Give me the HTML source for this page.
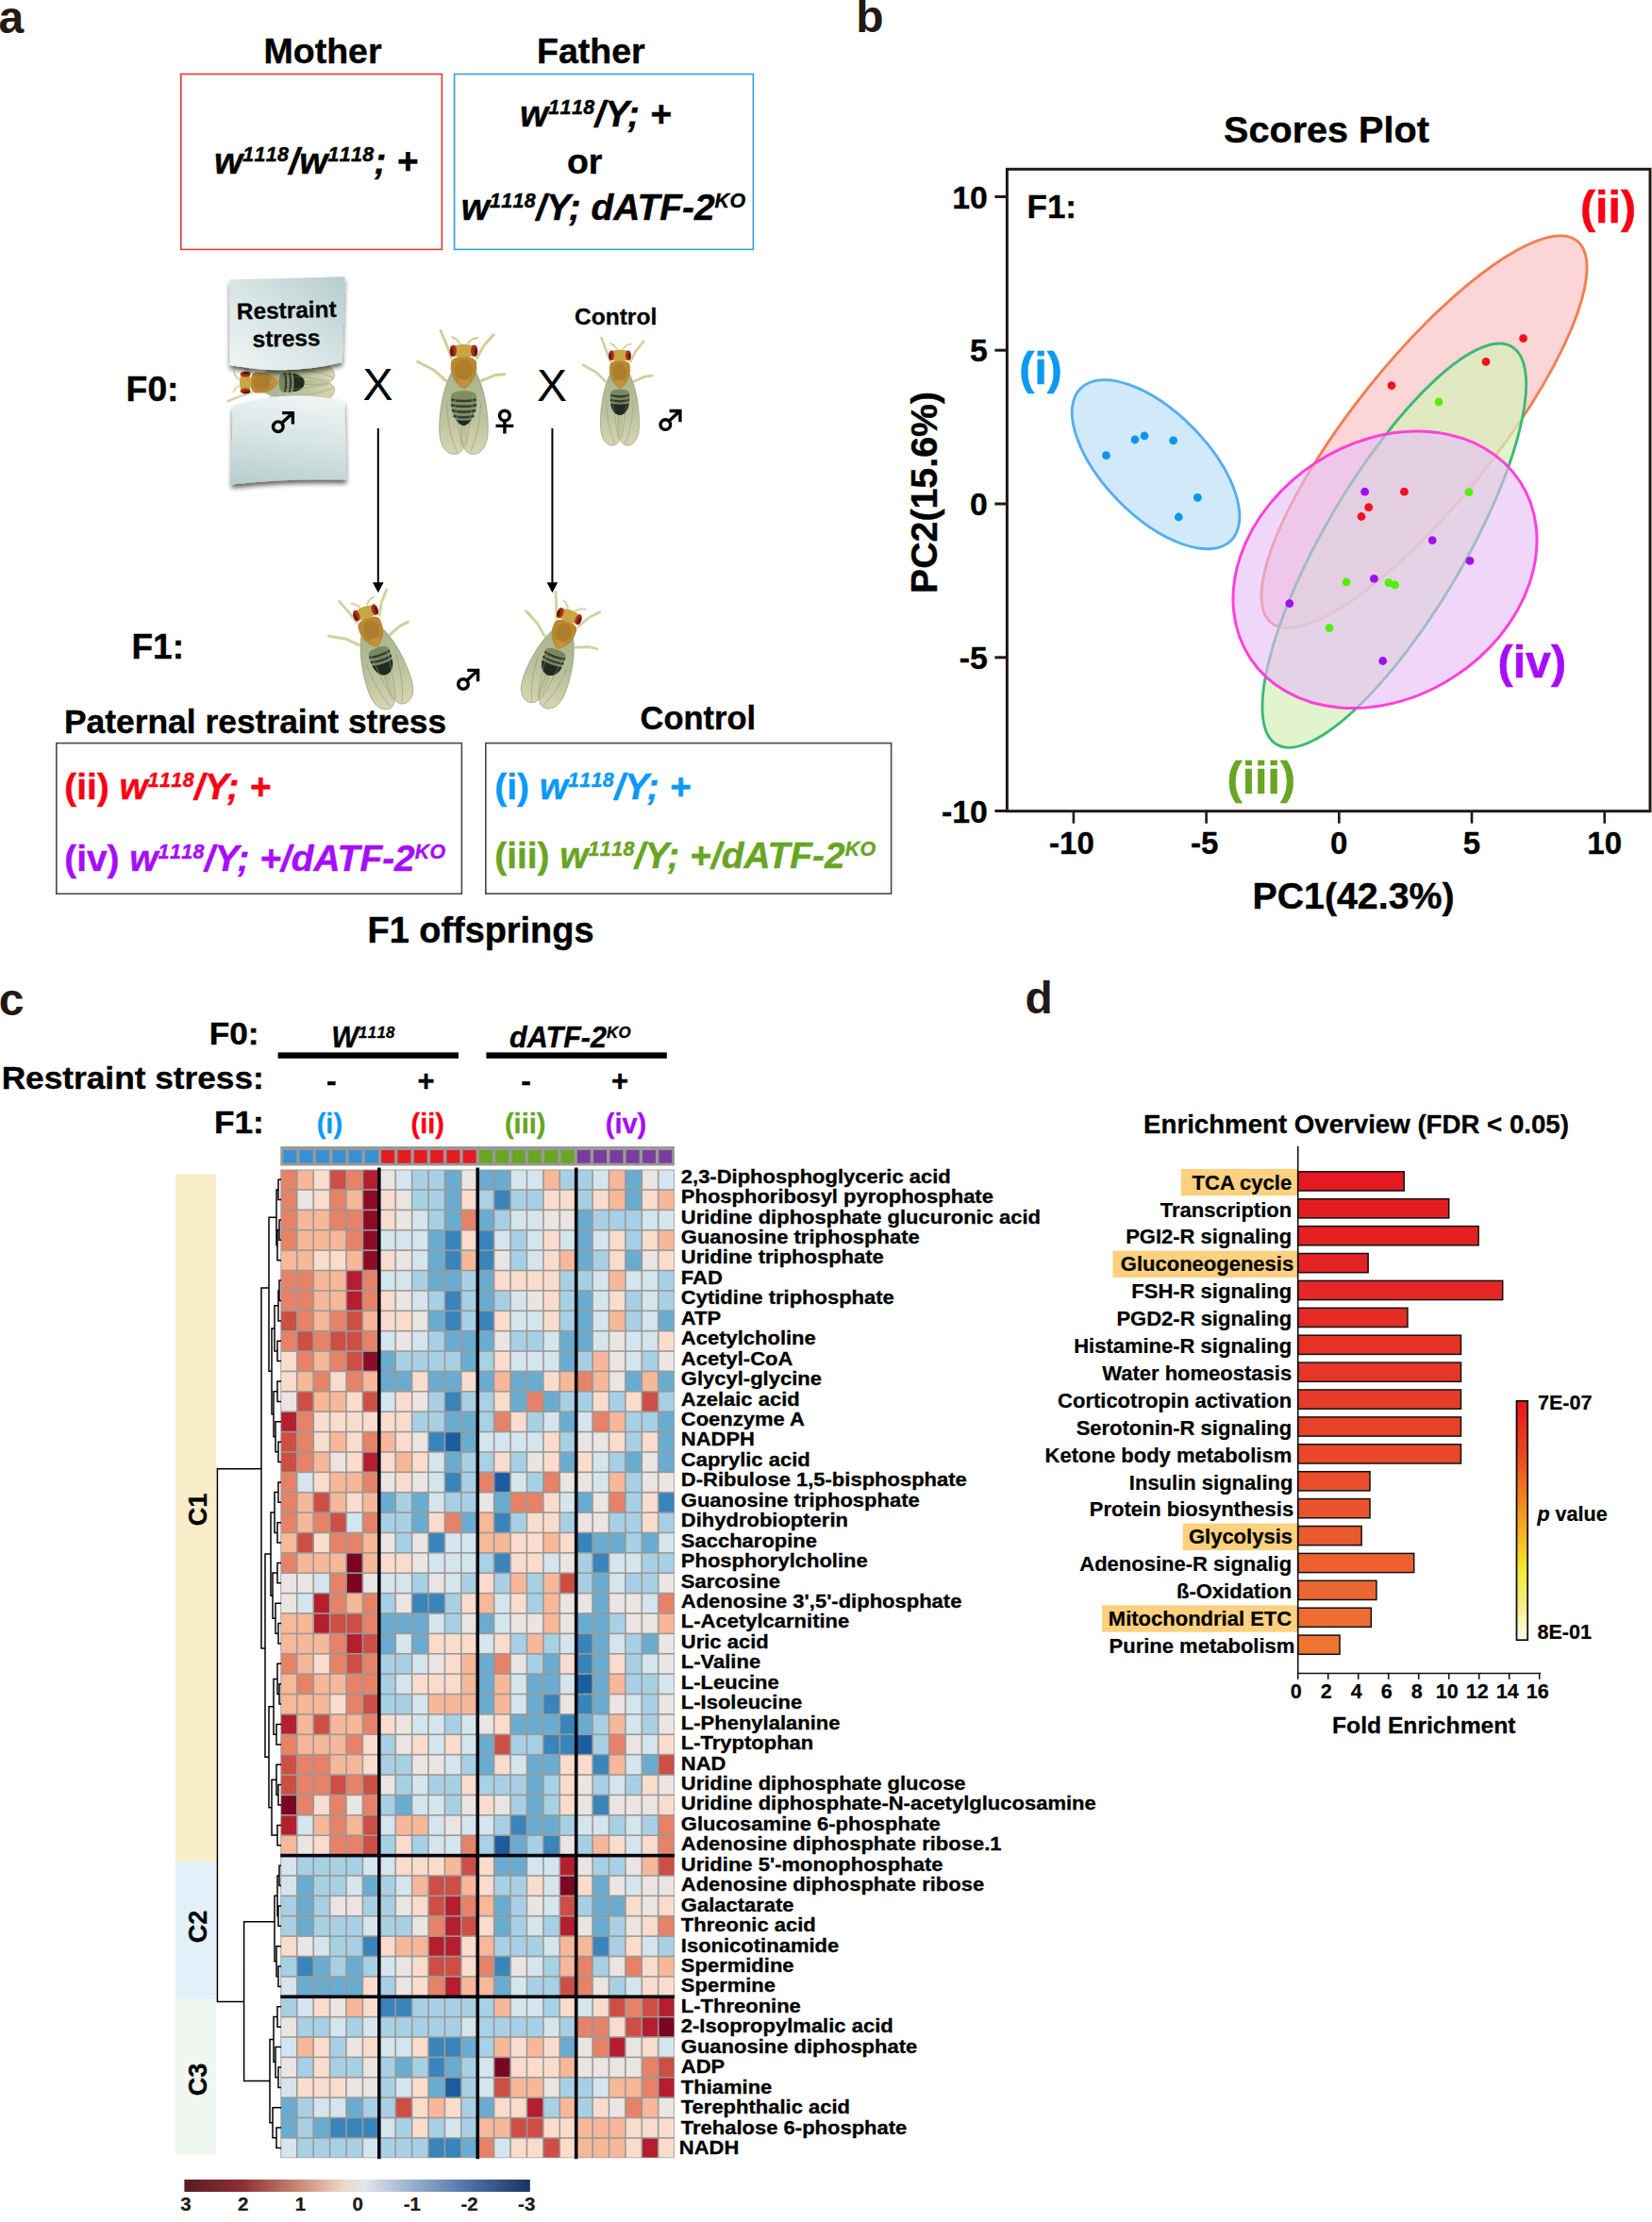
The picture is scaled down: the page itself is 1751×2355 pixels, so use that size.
<!DOCTYPE html>
<html><head><meta charset="utf-8"><title>Figure</title><style>html,body{margin:0;padding:0;background:#fff}svg{display:block}</style></head><body>
<svg width="1751" height="2355" viewBox="0 0 1751 2355" font-family="Liberation Sans, Arial, Helvetica, sans-serif">
<defs>
<linearGradient id="card" x1="0" y1="1" x2="1" y2="0"><stop offset="0" stop-color="#f0f5f5"/><stop offset="0.5" stop-color="#d6e4e3"/><stop offset="1" stop-color="#b5cdcc"/></linearGradient>
<linearGradient id="card2" x1="0.6" y1="0" x2="0.4" y2="1"><stop offset="0" stop-color="#eef4f4"/><stop offset="0.45" stop-color="#d9e6e5"/><stop offset="1" stop-color="#bad0cf"/></linearGradient>
<linearGradient id="hleg" x1="0" y1="0" x2="1" y2="0">
<stop offset="0" stop-color="#5a1a24"/><stop offset="0.17" stop-color="#8e3036"/><stop offset="0.33" stop-color="#c98872"/><stop offset="0.46" stop-color="#ecd7c8"/><stop offset="0.52" stop-color="#e4e6ea"/><stop offset="0.67" stop-color="#92abcb"/><stop offset="0.83" stop-color="#4b6fa6"/><stop offset="1" stop-color="#1c3360"/></linearGradient>
<linearGradient id="pleg" x1="0" y1="0" x2="0" y2="1">
<stop offset="0" stop-color="#e8151f"/><stop offset="0.23" stop-color="#ea4a20"/><stop offset="0.40" stop-color="#f08020"/><stop offset="0.535" stop-color="#f6ae1c"/><stop offset="0.645" stop-color="#f5d522"/><stop offset="0.725" stop-color="#f4ee38"/><stop offset="0.85" stop-color="#f3ee80"/><stop offset="1" stop-color="#fefef4"/></linearGradient>
<filter id="sh" x="-20%" y="-20%" width="140%" height="150%"><feGaussianBlur in="SourceAlpha" stdDeviation="2.5"/><feOffset dx="0" dy="4"/><feComponentTransfer><feFuncA type="linear" slope="0.6"/></feComponentTransfer><feMerge><feMergeNode/><feMergeNode in="SourceGraphic"/></feMerge></filter>
<linearGradient id="wing" x1="0" y1="0" x2="0" y2="1"><stop offset="0" stop-color="#98a57a"/><stop offset="0.55" stop-color="#afb78c"/><stop offset="1" stop-color="#d0cfa5"/></linearGradient>
<filter id="soft"><feGaussianBlur stdDeviation="0.6"/></filter>
</defs>
<rect width="1751" height="2355" fill="#fff"/>
<text x="-1.6" y="34.6" font-size="48" text-anchor="start" fill="#231815" font-weight="bold" font-style="normal" stroke="none">a</text>
<text x="907.2" y="34.4" font-size="48" text-anchor="start" fill="#231815" font-weight="bold" font-style="normal" stroke="none">b</text>
<text x="-1.3" y="1075.9" font-size="48" text-anchor="start" fill="#231815" font-weight="bold" font-style="normal" stroke="none">c</text>
<text x="1086.5" y="1074.2" font-size="48" text-anchor="start" fill="#231815" font-weight="bold" font-style="normal" stroke="none">d</text>
<text x="342.0" y="67.4" font-size="37.5" text-anchor="middle" fill="#000" font-weight="bold" font-style="normal"  stroke="#000" stroke-width="0.41">Mother</text>
<text x="626.3" y="67.4" font-size="37.5" text-anchor="middle" fill="#000" font-weight="bold" font-style="normal"  stroke="#000" stroke-width="0.41">Father</text>
<rect x="191.8" y="78.5" width="276.6" height="185.9" fill="none" stroke="#e8382f" stroke-width="1.6"/>
<rect x="481.6" y="78.5" width="316.8" height="185.9" fill="none" stroke="#2e9fe0" stroke-width="1.6"/>
<text x="335.0" y="183.6" font-size="38.9" text-anchor="middle" fill="#000" font-weight="bold" font-style="italic"  stroke="#000" stroke-width="0.43">w<tspan font-size="21.4" dy="-13.0" style="font-kerning:none" letter-spacing="0.4">1118</tspan><tspan font-size="38.9" dy="13.0">/w<tspan font-size="21.4" dy="-13.0" style="font-kerning:none" letter-spacing="0.4">1118</tspan><tspan font-size="38.9" dy="13.0">; +</tspan></tspan></text>
<text x="631.3" y="134.3" font-size="38.9" text-anchor="middle" fill="#000" font-weight="bold" font-style="italic"  stroke="#000" stroke-width="0.43">w<tspan font-size="21.4" dy="-13.0" style="font-kerning:none" letter-spacing="0.4">1118</tspan><tspan font-size="38.9" dy="13.0">/Y; +</tspan></text>
<text x="619.7" y="183.7" font-size="37.5" text-anchor="middle" fill="#000" font-weight="bold" font-style="normal"  stroke="#000" stroke-width="0.41">or</text>
<text x="639.6" y="232.6" font-size="38.9" text-anchor="middle" fill="#000" font-weight="bold" font-style="italic"  stroke="#000" stroke-width="0.43">w<tspan font-size="21.4" dy="-13.0" style="font-kerning:none" letter-spacing="0.4">1118</tspan><tspan font-size="38.9" dy="13.0">/Y; dATF-2<tspan font-size="21.4" dy="-13.0" style="font-kerning:none" letter-spacing="0.4">KO</tspan><tspan font-size="38.9" dy="13.0"></tspan></tspan></text>
<text x="133.6" y="425.0" font-size="37.3" text-anchor="start" fill="#000" font-weight="bold" font-style="normal"  stroke="#000" stroke-width="0.41">F0:</text>
<text x="139.5" y="698.4" font-size="37" text-anchor="start" fill="#000" font-weight="bold" font-style="normal"  stroke="#000" stroke-width="0.41">F1:</text>
<g transform="translate(253,405.5) rotate(-90) scale(0.8,0.905)"><g>
 <g stroke="#d3cd98" stroke-width="3" fill="none" stroke-linecap="round" stroke-linejoin="round" filter="url(#soft)">
  <path d="M-13,15 L-18,2 L-24.5,-12.5"/><path d="M14,15 L21,3 L31.5,-8.4"/>
  <path d="M-19,38 L-31,27.7 L-48.8,18.9"/><path d="M19,38 L32.9,32.4 L43,31.4"/>
  <path d="M-4.5,0 L-8,-4 L-12.3,-6" stroke-width="2"/><path d="M4.5,0 L9,-4 L14.7,-5.4" stroke-width="2"/>
 </g>
 <path d="M-12,28 C-21,42 -27,70 -25.5,92 C-24.5,108 -14,114.5 -6,111.5 C0,109 2.5,100 2.5,90 C2.5,70 3,52 -3,41 Z" fill="url(#wing)" fill-opacity="0.85" stroke="#9aa078" stroke-width="0.8"/>
 <path d="M12,28 C21,42 27,70 25.5,92 C24.5,108 14,114.5 6,111.5 C0,109 -2.5,100 -2.5,90 C-2.5,70 -3,52 3,41 Z" fill="url(#wing)" fill-opacity="0.85" stroke="#9aa078" stroke-width="0.8"/>
 <g opacity="0.9"><path d="M-12.5,53 Q-13,47 0,47 Q13,47 12.5,53 Q13.5,66 6,75 Q0,79 -6,75 Q-13.5,66 -12.5,53Z" fill="#74825a"/>
 <g stroke="#222e26" stroke-width="2.4" fill="none"><path d="M-12.5,54 Q0,57 12.5,54"/><path d="M-12.8,59.5 Q0,62.5 12.8,59.5"/></g>
 <path d="M-12.3,63.5 Q0,66 12.3,63.5 Q11,72 5.5,75.5 Q0,78.5 -5.5,75.5 Q-11,72 -12.3,63.5Z" fill="#121a17"/></g>
 <path d="M-18,60 C-17,85 -12,100 -7,110 M18,60 C17,85 12,100 7,110 M-10,50 C-8,75 -4,95 -2,104 M10,50 C8,75 4,95 2,104" stroke="#8f9670" stroke-width="0.7" fill="none" opacity="0.8"/>
 <path d="M-13.6,20 Q-13,14 0,13.5 Q13,14 13.6,20 Q15,32 8,40 Q3,46 0,46.5 Q-3,46 -8,40 Q-15,32 -13.6,20Z" fill="#b88932"/>
 <ellipse cx="0" cy="27" rx="9" ry="10" fill="#a67827" opacity="0.7"/>
 <path d="M-6.5,38 Q0,35 6.5,38 Q4,45 0,46.5 Q-4,45 -6.5,38Z" fill="#bf933c"/>
 <path d="M-10,2.5 Q0,-0.5 10,2.5 Q13,8 11,13 Q0,15.5 -11,13 Q-13,8 -10,2.5Z" fill="#c8a642"/>
 <ellipse cx="-11.2" cy="7.8" rx="3.7" ry="6" fill="#a92e1c"/><ellipse cx="11.2" cy="7.8" rx="3.7" ry="6" fill="#a92e1c"/>
 <ellipse cx="-12.7" cy="9" rx="1.7" ry="4.2" fill="#4e120e" opacity="0.75"/><ellipse cx="12.7" cy="9" rx="1.7" ry="4.2" fill="#4e120e" opacity="0.75"/>
</g>
</g>
<g filter="url(#sh)"><path d="M243.6,296.3 Q300,295.5 365.6,293.3 L362.8,384.1 Q304,399 243.6,386.9 Z" fill="url(#card)"/></g>
<g filter="url(#sh)"><path d="M246.5,430.5 Q302,411 365.3,425 L367.3,508.4 Q300,507 245.3,513.5 Z" fill="url(#card2)"/></g>
<g transform="rotate(-1.5 304 338)">
<text x="304.0" y="337.2" font-size="24.4" text-anchor="middle" fill="#000" font-weight="bold" font-style="normal"  stroke="#000" stroke-width="0.27">Restraint</text>
<text x="303.0" y="367.0" font-size="24.4" text-anchor="middle" fill="#000" font-weight="bold" font-style="normal"  stroke="#000" stroke-width="0.27">stress</text>
</g>
<g transform="translate(294.8,452.2) scale(1)" fill="none" stroke="#000" stroke-width="3.4"><circle cx="0" cy="0" r="5.3"/><path d="M3.8,-3.8 L14.6,-13.8 M4.3,-14.6 L15.6,-14.6 L15.6,-2.8"/></g>
<text x="400.5" y="424.2" font-size="48" text-anchor="middle" fill="#000" font-weight="normal" font-style="normal" >X</text>
<text x="585.0" y="424.6" font-size="48" text-anchor="middle" fill="#000" font-weight="normal" font-style="normal" >X</text>
<g transform="translate(491.5,363.6) scale(1,1.05)"><g>
 <g stroke="#d3cd98" stroke-width="3" fill="none" stroke-linecap="round" stroke-linejoin="round" filter="url(#soft)">
  <path d="M-13,15 L-18,2 L-24.5,-12.5"/><path d="M14,15 L21,3 L31.5,-8.4"/>
  <path d="M-19,38 L-31,27.7 L-48.8,18.9"/><path d="M19,38 L32.9,32.4 L43,31.4"/>
  <path d="M-4.5,0 L-8,-4 L-12.3,-6" stroke-width="2"/><path d="M4.5,0 L9,-4 L14.7,-5.4" stroke-width="2"/>
 </g>
 <path d="M-12,28 C-21,42 -27,70 -25.5,92 C-24.5,108 -14,114.5 -6,111.5 C0,109 2.5,100 2.5,90 C2.5,70 3,52 -3,41 Z" fill="url(#wing)" fill-opacity="0.85" stroke="#9aa078" stroke-width="0.8"/>
 <path d="M12,28 C21,42 27,70 25.5,92 C24.5,108 14,114.5 6,111.5 C0,109 -2.5,100 -2.5,90 C-2.5,70 -3,52 3,41 Z" fill="url(#wing)" fill-opacity="0.85" stroke="#9aa078" stroke-width="0.8"/>
 <g opacity="0.9"><path d="M-13.5,55 Q-14,48 0,48 Q14,48 13.5,55 Q14.5,70 6.5,80 Q0,84.5 -6.5,80 Q-14.5,70 -13.5,55Z" fill="#7c8a5c"/>
 <g stroke="#26322a" stroke-width="2.5" fill="none"><path d="M-13.3,57 Q0,60 13.3,57"/><path d="M-13.6,62.5 Q0,65.5 13.6,62.5"/><path d="M-12.8,68 Q0,71 12.8,68"/><path d="M-11,73.5 Q0,76.5 11,73.5"/></g>
 <path d="M-8.5,77 Q0,79.5 8.5,77 Q5,82.5 0,83.5 Q-5,82.5 -8.5,77Z" fill="#10181a"/></g>
 <path d="M-18,60 C-17,85 -12,100 -7,110 M18,60 C17,85 12,100 7,110 M-10,50 C-8,75 -4,95 -2,104 M10,50 C8,75 4,95 2,104" stroke="#8f9670" stroke-width="0.7" fill="none" opacity="0.8"/>
 <path d="M-13.6,20 Q-13,14 0,13.5 Q13,14 13.6,20 Q15,32 8,40 Q3,46 0,46.5 Q-3,46 -8,40 Q-15,32 -13.6,20Z" fill="#b88932"/>
 <ellipse cx="0" cy="27" rx="9" ry="10" fill="#a67827" opacity="0.7"/>
 <path d="M-6.5,38 Q0,35 6.5,38 Q4,45 0,46.5 Q-4,45 -6.5,38Z" fill="#bf933c"/>
 <path d="M-10,2.5 Q0,-0.5 10,2.5 Q13,8 11,13 Q0,15.5 -11,13 Q-13,8 -10,2.5Z" fill="#c8a642"/>
 <ellipse cx="-11.2" cy="7.8" rx="3.7" ry="6" fill="#a92e1c"/><ellipse cx="11.2" cy="7.8" rx="3.7" ry="6" fill="#a92e1c"/>
 <ellipse cx="-12.7" cy="9" rx="1.7" ry="4.2" fill="#4e120e" opacity="0.75"/><ellipse cx="12.7" cy="9" rx="1.7" ry="4.2" fill="#4e120e" opacity="0.75"/>
</g>
</g>
<g transform="translate(534.9,440.6) scale(1)" fill="none" stroke="#000" stroke-width="3.4"><circle cx="0" cy="0" r="5.4"/><path d="M0,5.4 L0,19 M-9.4,10.8 L9.4,10.8"/></g>
<g transform="translate(657,369.5) scale(0.8,0.915)"><g>
 <g stroke="#d3cd98" stroke-width="3" fill="none" stroke-linecap="round" stroke-linejoin="round" filter="url(#soft)">
  <path d="M-13,15 L-18,2 L-24.5,-12.5"/><path d="M14,15 L21,3 L31.5,-8.4"/>
  <path d="M-19,38 L-31,27.7 L-48.8,18.9"/><path d="M19,38 L32.9,32.4 L43,31.4"/>
  <path d="M-4.5,0 L-8,-4 L-12.3,-6" stroke-width="2"/><path d="M4.5,0 L9,-4 L14.7,-5.4" stroke-width="2"/>
 </g>
 <path d="M-12,28 C-21,42 -27,70 -25.5,92 C-24.5,108 -14,114.5 -6,111.5 C0,109 2.5,100 2.5,90 C2.5,70 3,52 -3,41 Z" fill="url(#wing)" fill-opacity="0.85" stroke="#9aa078" stroke-width="0.8"/>
 <path d="M12,28 C21,42 27,70 25.5,92 C24.5,108 14,114.5 6,111.5 C0,109 -2.5,100 -2.5,90 C-2.5,70 -3,52 3,41 Z" fill="url(#wing)" fill-opacity="0.85" stroke="#9aa078" stroke-width="0.8"/>
 <g opacity="0.9"><path d="M-12.5,53 Q-13,47 0,47 Q13,47 12.5,53 Q13.5,66 6,75 Q0,79 -6,75 Q-13.5,66 -12.5,53Z" fill="#74825a"/>
 <g stroke="#222e26" stroke-width="2.4" fill="none"><path d="M-12.5,54 Q0,57 12.5,54"/><path d="M-12.8,59.5 Q0,62.5 12.8,59.5"/></g>
 <path d="M-12.3,63.5 Q0,66 12.3,63.5 Q11,72 5.5,75.5 Q0,78.5 -5.5,75.5 Q-11,72 -12.3,63.5Z" fill="#121a17"/></g>
 <path d="M-18,60 C-17,85 -12,100 -7,110 M18,60 C17,85 12,100 7,110 M-10,50 C-8,75 -4,95 -2,104 M10,50 C8,75 4,95 2,104" stroke="#8f9670" stroke-width="0.7" fill="none" opacity="0.8"/>
 <path d="M-13.6,20 Q-13,14 0,13.5 Q13,14 13.6,20 Q15,32 8,40 Q3,46 0,46.5 Q-3,46 -8,40 Q-15,32 -13.6,20Z" fill="#b88932"/>
 <ellipse cx="0" cy="27" rx="9" ry="10" fill="#a67827" opacity="0.7"/>
 <path d="M-6.5,38 Q0,35 6.5,38 Q4,45 0,46.5 Q-4,45 -6.5,38Z" fill="#bf933c"/>
 <path d="M-10,2.5 Q0,-0.5 10,2.5 Q13,8 11,13 Q0,15.5 -11,13 Q-13,8 -10,2.5Z" fill="#c8a642"/>
 <ellipse cx="-11.2" cy="7.8" rx="3.7" ry="6" fill="#a92e1c"/><ellipse cx="11.2" cy="7.8" rx="3.7" ry="6" fill="#a92e1c"/>
 <ellipse cx="-12.7" cy="9" rx="1.7" ry="4.2" fill="#4e120e" opacity="0.75"/><ellipse cx="12.7" cy="9" rx="1.7" ry="4.2" fill="#4e120e" opacity="0.75"/>
</g>
</g>
<g transform="translate(705.3,450.1) scale(1)" fill="none" stroke="#000" stroke-width="3.4"><circle cx="0" cy="0" r="5.3"/><path d="M3.8,-3.8 L14.6,-13.8 M4.3,-14.6 L15.6,-14.6 L15.6,-2.8"/></g>
<text x="652.6" y="343.9" font-size="24.6" text-anchor="middle" fill="#000" font-weight="bold" font-style="normal"  stroke="#000" stroke-width="0.27">Control</text>
<path d="M400.8,454 L400.8,620" stroke="#000" stroke-width="2"/><path d="M395.0,617.3 L406.6,617.3 L400.8,628.2 Z" fill="#000"/>
<path d="M585.4,454 L585.4,620" stroke="#000" stroke-width="2"/><path d="M579.6,617.3 L591.1999999999999,617.3 L585.4,628.2 Z" fill="#000"/>
<g transform="translate(385,642) rotate(-18.5) scale(0.92,1.0)"><g>
 <g stroke="#d3cd98" stroke-width="3" fill="none" stroke-linecap="round" stroke-linejoin="round" filter="url(#soft)">
  <path d="M-13,15 L-18,2 L-24.5,-12.5"/><path d="M14,15 L21,3 L31.5,-8.4"/>
  <path d="M-19,38 L-31,27.7 L-48.8,18.9"/><path d="M19,38 L32.9,32.4 L43,31.4"/>
  <path d="M-4.5,0 L-8,-4 L-12.3,-6" stroke-width="2"/><path d="M4.5,0 L9,-4 L14.7,-5.4" stroke-width="2"/>
 </g>
 <path d="M-12,28 C-21,42 -27,70 -25.5,92 C-24.5,108 -14,114.5 -6,111.5 C0,109 2.5,100 2.5,90 C2.5,70 3,52 -3,41 Z" fill="url(#wing)" fill-opacity="0.85" stroke="#9aa078" stroke-width="0.8"/>
 <path d="M12,28 C21,42 27,70 25.5,92 C24.5,108 14,114.5 6,111.5 C0,109 -2.5,100 -2.5,90 C-2.5,70 -3,52 3,41 Z" fill="url(#wing)" fill-opacity="0.85" stroke="#9aa078" stroke-width="0.8"/>
 <g opacity="0.9"><path d="M-12.5,53 Q-13,47 0,47 Q13,47 12.5,53 Q13.5,66 6,75 Q0,79 -6,75 Q-13.5,66 -12.5,53Z" fill="#74825a"/>
 <g stroke="#222e26" stroke-width="2.4" fill="none"><path d="M-12.5,54 Q0,57 12.5,54"/><path d="M-12.8,59.5 Q0,62.5 12.8,59.5"/></g>
 <path d="M-12.3,63.5 Q0,66 12.3,63.5 Q11,72 5.5,75.5 Q0,78.5 -5.5,75.5 Q-11,72 -12.3,63.5Z" fill="#121a17"/></g>
 <path d="M-18,60 C-17,85 -12,100 -7,110 M18,60 C17,85 12,100 7,110 M-10,50 C-8,75 -4,95 -2,104 M10,50 C8,75 4,95 2,104" stroke="#8f9670" stroke-width="0.7" fill="none" opacity="0.8"/>
 <path d="M-13.6,20 Q-13,14 0,13.5 Q13,14 13.6,20 Q15,32 8,40 Q3,46 0,46.5 Q-3,46 -8,40 Q-15,32 -13.6,20Z" fill="#b88932"/>
 <ellipse cx="0" cy="27" rx="9" ry="10" fill="#a67827" opacity="0.7"/>
 <path d="M-6.5,38 Q0,35 6.5,38 Q4,45 0,46.5 Q-4,45 -6.5,38Z" fill="#bf933c"/>
 <path d="M-10,2.5 Q0,-0.5 10,2.5 Q13,8 11,13 Q0,15.5 -11,13 Q-13,8 -10,2.5Z" fill="#c8a642"/>
 <ellipse cx="-11.2" cy="7.8" rx="3.7" ry="6" fill="#a92e1c"/><ellipse cx="11.2" cy="7.8" rx="3.7" ry="6" fill="#a92e1c"/>
 <ellipse cx="-12.7" cy="9" rx="1.7" ry="4.2" fill="#4e120e" opacity="0.75"/><ellipse cx="12.7" cy="9" rx="1.7" ry="4.2" fill="#4e120e" opacity="0.75"/>
</g>
</g>
<g transform="translate(606,646) rotate(20) scale(0.92,0.96)"><g>
 <g stroke="#d3cd98" stroke-width="3" fill="none" stroke-linecap="round" stroke-linejoin="round" filter="url(#soft)">
  <path d="M-13,15 L-18,2 L-24.5,-12.5"/><path d="M14,15 L21,3 L31.5,-8.4"/>
  <path d="M-19,38 L-31,27.7 L-48.8,18.9"/><path d="M19,38 L32.9,32.4 L43,31.4"/>
  <path d="M-4.5,0 L-8,-4 L-12.3,-6" stroke-width="2"/><path d="M4.5,0 L9,-4 L14.7,-5.4" stroke-width="2"/>
 </g>
 <path d="M-12,28 C-21,42 -27,70 -25.5,92 C-24.5,108 -14,114.5 -6,111.5 C0,109 2.5,100 2.5,90 C2.5,70 3,52 -3,41 Z" fill="url(#wing)" fill-opacity="0.85" stroke="#9aa078" stroke-width="0.8"/>
 <path d="M12,28 C21,42 27,70 25.5,92 C24.5,108 14,114.5 6,111.5 C0,109 -2.5,100 -2.5,90 C-2.5,70 -3,52 3,41 Z" fill="url(#wing)" fill-opacity="0.85" stroke="#9aa078" stroke-width="0.8"/>
 <g opacity="0.9"><path d="M-12.5,53 Q-13,47 0,47 Q13,47 12.5,53 Q13.5,66 6,75 Q0,79 -6,75 Q-13.5,66 -12.5,53Z" fill="#74825a"/>
 <g stroke="#222e26" stroke-width="2.4" fill="none"><path d="M-12.5,54 Q0,57 12.5,54"/><path d="M-12.8,59.5 Q0,62.5 12.8,59.5"/></g>
 <path d="M-12.3,63.5 Q0,66 12.3,63.5 Q11,72 5.5,75.5 Q0,78.5 -5.5,75.5 Q-11,72 -12.3,63.5Z" fill="#121a17"/></g>
 <path d="M-18,60 C-17,85 -12,100 -7,110 M18,60 C17,85 12,100 7,110 M-10,50 C-8,75 -4,95 -2,104 M10,50 C8,75 4,95 2,104" stroke="#8f9670" stroke-width="0.7" fill="none" opacity="0.8"/>
 <path d="M-13.6,20 Q-13,14 0,13.5 Q13,14 13.6,20 Q15,32 8,40 Q3,46 0,46.5 Q-3,46 -8,40 Q-15,32 -13.6,20Z" fill="#b88932"/>
 <ellipse cx="0" cy="27" rx="9" ry="10" fill="#a67827" opacity="0.7"/>
 <path d="M-6.5,38 Q0,35 6.5,38 Q4,45 0,46.5 Q-4,45 -6.5,38Z" fill="#bf933c"/>
 <path d="M-10,2.5 Q0,-0.5 10,2.5 Q13,8 11,13 Q0,15.5 -11,13 Q-13,8 -10,2.5Z" fill="#c8a642"/>
 <ellipse cx="-11.2" cy="7.8" rx="3.7" ry="6" fill="#a92e1c"/><ellipse cx="11.2" cy="7.8" rx="3.7" ry="6" fill="#a92e1c"/>
 <ellipse cx="-12.7" cy="9" rx="1.7" ry="4.2" fill="#4e120e" opacity="0.75"/><ellipse cx="12.7" cy="9" rx="1.7" ry="4.2" fill="#4e120e" opacity="0.75"/>
</g>
</g>
<g transform="translate(491,725) scale(1)" fill="none" stroke="#000" stroke-width="3.4"><circle cx="0" cy="0" r="5.3"/><path d="M3.8,-3.8 L14.6,-13.8 M4.3,-14.6 L15.6,-14.6 L15.6,-2.8"/></g>
<text x="270.6" y="777.0" font-size="35.4" text-anchor="middle" fill="#000" font-weight="bold" font-style="normal"  stroke="#000" stroke-width="0.39">Paternal restraint stress</text>
<text x="739.8" y="773.1" font-size="34.5" text-anchor="middle" fill="#000" font-weight="bold" font-style="normal"  stroke="#000" stroke-width="0.38">Control</text>
<rect x="59.8" y="787.6" width="429.6" height="159.7" fill="none" stroke="#4d4544" stroke-width="1.6"/>
<rect x="514.8" y="787.6" width="429.8" height="159.6" fill="none" stroke="#4d4544" stroke-width="1.6"/>
<text x="68.2" y="846.8" font-size="38.9" text-anchor="start" fill="#fa0014" font-weight="bold" font-style="italic"  stroke="#fa0014" stroke-width="0.43"><tspan font-style="normal">(ii) </tspan>w<tspan font-size="21.4" dy="-13.0" style="font-kerning:none" letter-spacing="0.4">1118</tspan><tspan font-size="38.9" dy="13.0">/Y; +</tspan></text>
<text x="68.2" y="923.0" font-size="38.9" text-anchor="start" fill="#a70dfc" font-weight="bold" font-style="italic"  stroke="#a70dfc" stroke-width="0.43"><tspan font-style="normal">(iv) </tspan>w<tspan font-size="21.4" dy="-13.0" style="font-kerning:none" letter-spacing="0.4">1118</tspan><tspan font-size="38.9" dy="13.0">/Y; +/dATF-2<tspan font-size="21.4" dy="-13.0" style="font-kerning:none" letter-spacing="0.4">KO</tspan><tspan font-size="38.9" dy="13.0"></tspan></tspan></text>
<text x="524.2" y="846.5" font-size="38.9" text-anchor="start" fill="#0b99f9" font-weight="bold" font-style="italic"  stroke="#0b99f9" stroke-width="0.43"><tspan font-style="normal">(i) </tspan>w<tspan font-size="21.4" dy="-13.0" style="font-kerning:none" letter-spacing="0.4">1118</tspan><tspan font-size="38.9" dy="13.0">/Y; +</tspan></text>
<text x="524.2" y="920.3" font-size="38.9" text-anchor="start" fill="#68a523" font-weight="bold" font-style="italic"  stroke="#68a523" stroke-width="0.43"><tspan font-style="normal">(iii) </tspan>w<tspan font-size="21.4" dy="-13.0" style="font-kerning:none" letter-spacing="0.4">1118</tspan><tspan font-size="38.9" dy="13.0">/Y; +/dATF-2<tspan font-size="21.4" dy="-13.0" style="font-kerning:none" letter-spacing="0.4">KO</tspan><tspan font-size="38.9" dy="13.0"></tspan></tspan></text>
<text x="509.5" y="999.1" font-size="37.9" text-anchor="middle" fill="#000" font-weight="bold" font-style="normal"  stroke="#000" stroke-width="0.42">F1 offsprings</text>
<clipPath id="bclip"><rect x="1067.4" y="179.3" width="681.5999999999999" height="680.4000000000001"/></clipPath><g clip-path="url(#bclip)">
<ellipse cx="1225.1" cy="492.2" rx="113.4" ry="55.3" transform="rotate(45.4 1225.1 492.2)" fill="#bfe0f8" fill-opacity="0.7" stroke="#55aef0" stroke-width="2.9"/>
<ellipse cx="1509.5" cy="457.7" rx="259.3" ry="75.5" transform="rotate(-51.3 1509.5 457.7)" fill="#fbc4c4" fill-opacity="0.7" stroke="#f08050" stroke-width="2.9"/>
<ellipse cx="1477.8" cy="578.2" rx="244.9" ry="73.6" transform="rotate(-59.4 1477.8 578.2)" fill="#d4f0b8" fill-opacity="0.7" stroke="#3cb878" stroke-width="2.9"/>
<ellipse cx="1468.0" cy="603.8" rx="170.9" ry="135.1" transform="rotate(-33.2 1468.0 603.8)" fill="#e6bdf7" fill-opacity="0.6" stroke="#ff40dc" stroke-width="3"/>
</g>
<circle cx="1172.5" cy="482.7" r="4.4" fill="#0a96f0"/>
<circle cx="1203" cy="466" r="4.4" fill="#0a96f0"/>
<circle cx="1213" cy="462" r="4.4" fill="#0a96f0"/>
<circle cx="1243.6" cy="466.8" r="4.4" fill="#0a96f0"/>
<circle cx="1269.4" cy="527.4" r="4.4" fill="#0a96f0"/>
<circle cx="1249.3" cy="548" r="4.4" fill="#0a96f0"/>
<circle cx="1614.6" cy="358.6" r="4.4" fill="#f0141e"/>
<circle cx="1575" cy="383.3" r="4.4" fill="#f0141e"/>
<circle cx="1475" cy="408.6" r="4.4" fill="#f0141e"/>
<circle cx="1488.4" cy="521.2" r="4.4" fill="#f0141e"/>
<circle cx="1450.7" cy="537.7" r="4.4" fill="#f0141e"/>
<circle cx="1443" cy="547.5" r="4.4" fill="#f0141e"/>
<circle cx="1525" cy="426" r="4.4" fill="#50f000"/>
<circle cx="1556.9" cy="521.7" r="4.4" fill="#50f000"/>
<circle cx="1427" cy="617" r="4.4" fill="#50f000"/>
<circle cx="1471.9" cy="617.6" r="4.4" fill="#50f000"/>
<circle cx="1478.6" cy="620" r="4.4" fill="#50f000"/>
<circle cx="1409" cy="665.5" r="4.4" fill="#50f000"/>
<circle cx="1446.6" cy="521.2" r="4.4" fill="#a010f0"/>
<circle cx="1518.2" cy="572.7" r="4.4" fill="#a010f0"/>
<circle cx="1557.9" cy="594.4" r="4.4" fill="#a010f0"/>
<circle cx="1456.4" cy="613.4" r="4.4" fill="#a010f0"/>
<circle cx="1366.8" cy="639.7" r="4.4" fill="#a010f0"/>
<circle cx="1465.7" cy="700.5" r="4.4" fill="#a010f0"/>
<rect x="1067.4" y="179.3" width="681.5999999999999" height="680.4000000000001" fill="none" stroke="#231815" stroke-width="3"/>
<path d="M1054.4,208.5 L1067.4,208.5" stroke="#231815" stroke-width="3"/>
<text x="1046.9" y="220.5" font-size="33.8" text-anchor="end" fill="#000" font-weight="bold" font-style="normal"  stroke="#000" stroke-width="0.37">10</text>
<path d="M1054.4,371.2 L1067.4,371.2" stroke="#231815" stroke-width="3"/>
<text x="1046.9" y="383.2" font-size="33.8" text-anchor="end" fill="#000" font-weight="bold" font-style="normal"  stroke="#000" stroke-width="0.37">5</text>
<path d="M1054.4,534.0 L1067.4,534.0" stroke="#231815" stroke-width="3"/>
<text x="1046.9" y="546.0" font-size="33.8" text-anchor="end" fill="#000" font-weight="bold" font-style="normal"  stroke="#000" stroke-width="0.37">0</text>
<path d="M1054.4,696.8 L1067.4,696.8" stroke="#231815" stroke-width="3"/>
<text x="1046.9" y="708.8" font-size="33.8" text-anchor="end" fill="#000" font-weight="bold" font-style="normal"  stroke="#000" stroke-width="0.37">-5</text>
<path d="M1054.4,859.5 L1067.4,859.5" stroke="#231815" stroke-width="3"/>
<text x="1046.9" y="871.5" font-size="33.8" text-anchor="end" fill="#000" font-weight="bold" font-style="normal"  stroke="#000" stroke-width="0.37">-10</text>
<path d="M1137.9,859.7 L1137.9,872.7" stroke="#231815" stroke-width="2.6"/>
<text x="1135.9" y="904.7" font-size="33" text-anchor="middle" fill="#000" font-weight="bold" font-style="normal"  stroke="#000" stroke-width="0.36">-10</text>
<path d="M1278.6,859.7 L1278.6,872.7" stroke="#231815" stroke-width="2.6"/>
<text x="1276.6" y="904.7" font-size="33" text-anchor="middle" fill="#000" font-weight="bold" font-style="normal"  stroke="#000" stroke-width="0.36">-5</text>
<path d="M1419.3,859.7 L1419.3,872.7" stroke="#231815" stroke-width="2.6"/>
<text x="1419.3" y="904.7" font-size="33" text-anchor="middle" fill="#000" font-weight="bold" font-style="normal"  stroke="#000" stroke-width="0.36">0</text>
<path d="M1560.0,859.7 L1560.0,872.7" stroke="#231815" stroke-width="2.6"/>
<text x="1560.0" y="904.7" font-size="33" text-anchor="middle" fill="#000" font-weight="bold" font-style="normal"  stroke="#000" stroke-width="0.36">5</text>
<path d="M1700.7,859.7 L1700.7,872.7" stroke="#231815" stroke-width="2.6"/>
<text x="1700.7" y="904.7" font-size="33" text-anchor="middle" fill="#000" font-weight="bold" font-style="normal"  stroke="#000" stroke-width="0.36">10</text>
<text x="1406.0" y="151.0" font-size="39.6" text-anchor="middle" fill="#000" font-weight="bold" font-style="normal"  stroke="#000" stroke-width="0.44">Scores Plot</text>
<text x="1434.5" y="963.0" font-size="39.3" text-anchor="middle" fill="#000" font-weight="bold" font-style="normal"  stroke="#000" stroke-width="0.43">PC1(42.3%)</text>
<g transform="translate(992.7,522) rotate(-90)">
<text x="0.0" y="0.0" font-size="39.3" text-anchor="middle" fill="#000" font-weight="bold" font-style="normal"  stroke="#000" stroke-width="0.43">PC2(15.6%)</text>
</g>
<text x="1088.5" y="230.5" font-size="35" text-anchor="start" fill="#000" font-weight="bold" font-style="normal"  stroke="#000" stroke-width="0.38">F1:</text>
<text x="1080.3" y="407.1" font-size="48.3" text-anchor="start" fill="#0d99f2" font-weight="bold" font-style="normal"  stroke="#0d99f2" stroke-width="0.53">(i)</text>
<text x="1675.0" y="236.1" font-size="48.3" text-anchor="start" fill="#fa0014" font-weight="bold" font-style="normal"  stroke="#fa0014" stroke-width="0.53">(ii)</text>
<text x="1300.6" y="840.7" font-size="48.3" text-anchor="start" fill="#68a523" font-weight="bold" font-style="normal"  stroke="#68a523" stroke-width="0.53">(iii)</text>
<text x="1587.6" y="717.5" font-size="48.3" text-anchor="start" fill="#a70dfc" font-weight="bold" font-style="normal"  stroke="#a70dfc" stroke-width="0.53">(iv)</text>
<g transform="translate(274.6,1106.8) scale(1.085,1)">
<text x="0.0" y="0.0" font-size="32.5" text-anchor="end" fill="#000" font-weight="bold" font-style="normal"  stroke="#000" stroke-width="0.36">F0:</text>
</g>
<g transform="translate(279.8,1154) scale(1.085,1)">
<text x="0.0" y="0.0" font-size="32.5" text-anchor="end" fill="#000" font-weight="bold" font-style="normal"  stroke="#000" stroke-width="0.36">Restraint stress:</text>
</g>
<g transform="translate(279.8,1201.3) scale(1.085,1)">
<text x="0.0" y="0.0" font-size="32.5" text-anchor="end" fill="#000" font-weight="bold" font-style="normal"  stroke="#000" stroke-width="0.36">F1:</text>
</g>
<text x="385.0" y="1110.0" font-size="30.5" text-anchor="middle" fill="#000" font-weight="bold" font-style="italic"  stroke="#000" stroke-width="0.34">W<tspan font-size="16.8" dy="-10.2" style="font-kerning:none" letter-spacing="0.4">1118</tspan><tspan font-size="30.5" dy="10.2"></tspan></text>
<text x="604.5" y="1110.0" font-size="30.5" text-anchor="middle" fill="#000" font-weight="bold" font-style="italic"  stroke="#000" stroke-width="0.34">dATF-2<tspan font-size="16.8" dy="-10.2" style="font-kerning:none" letter-spacing="0.4">KO</tspan><tspan font-size="30.5" dy="10.2"></tspan></text>
<rect x="294.6" y="1115.4" width="191.4" height="6.4" fill="#000"/><rect x="515.4" y="1115.4" width="191.4" height="6.4" fill="#000"/>
<text x="351.3" y="1156.0" font-size="32" text-anchor="middle" fill="#000" font-weight="bold" font-style="normal"  stroke="#000" stroke-width="0.35">-</text>
<text x="451.5" y="1156.0" font-size="31" text-anchor="middle" fill="#000" font-weight="bold" font-style="normal"  stroke="#000" stroke-width="0.34">+</text>
<text x="557.5" y="1156.0" font-size="32" text-anchor="middle" fill="#000" font-weight="bold" font-style="normal"  stroke="#000" stroke-width="0.35">-</text>
<text x="657.0" y="1156.0" font-size="31" text-anchor="middle" fill="#000" font-weight="bold" font-style="normal"  stroke="#000" stroke-width="0.34">+</text>
<text x="349.4" y="1201.0" font-size="29" text-anchor="middle" fill="#0b99f9" font-weight="bold" font-style="normal"  stroke="#0b99f9" stroke-width="0.32">(i)</text>
<text x="453.2" y="1201.0" font-size="29" text-anchor="middle" fill="#fa0014" font-weight="bold" font-style="normal"  stroke="#fa0014" stroke-width="0.32">(ii)</text>
<text x="556.7" y="1201.0" font-size="29" text-anchor="middle" fill="#68a523" font-weight="bold" font-style="normal"  stroke="#68a523" stroke-width="0.32">(iii)</text>
<text x="663.5" y="1201.0" font-size="29" text-anchor="middle" fill="#a70dfc" font-weight="bold" font-style="normal"  stroke="#a70dfc" stroke-width="0.32">(iv)</text>
<rect x="297.3" y="1215" width="417.7" height="20.5" fill="#9a9998"/>
<rect x="300.40" y="1219" width="13.9" height="13.7" fill="#3a8fd2"/>
<rect x="317.70" y="1219" width="13.9" height="13.7" fill="#3a8fd2"/>
<rect x="335.00" y="1219" width="13.9" height="13.7" fill="#3a8fd2"/>
<rect x="352.30" y="1219" width="13.9" height="13.7" fill="#3a8fd2"/>
<rect x="369.60" y="1219" width="13.9" height="13.7" fill="#3a8fd2"/>
<rect x="386.90" y="1219" width="13.9" height="13.7" fill="#3a8fd2"/>
<rect x="404.20" y="1219" width="13.9" height="13.7" fill="#e51c23"/>
<rect x="421.50" y="1219" width="13.9" height="13.7" fill="#e51c23"/>
<rect x="438.80" y="1219" width="13.9" height="13.7" fill="#e51c23"/>
<rect x="456.10" y="1219" width="13.9" height="13.7" fill="#e51c23"/>
<rect x="473.40" y="1219" width="13.9" height="13.7" fill="#e51c23"/>
<rect x="490.70" y="1219" width="13.9" height="13.7" fill="#e51c23"/>
<rect x="508.00" y="1219" width="13.9" height="13.7" fill="#69a625"/>
<rect x="525.30" y="1219" width="13.9" height="13.7" fill="#69a625"/>
<rect x="542.60" y="1219" width="13.9" height="13.7" fill="#69a625"/>
<rect x="559.90" y="1219" width="13.9" height="13.7" fill="#69a625"/>
<rect x="577.20" y="1219" width="13.9" height="13.7" fill="#69a625"/>
<rect x="594.50" y="1219" width="13.9" height="13.7" fill="#69a625"/>
<rect x="611.80" y="1219" width="13.9" height="13.7" fill="#7a3d9e"/>
<rect x="629.10" y="1219" width="13.9" height="13.7" fill="#7a3d9e"/>
<rect x="646.40" y="1219" width="13.9" height="13.7" fill="#7a3d9e"/>
<rect x="663.70" y="1219" width="13.9" height="13.7" fill="#7a3d9e"/>
<rect x="681.00" y="1219" width="13.9" height="13.7" fill="#7a3d9e"/>
<rect x="698.30" y="1219" width="13.9" height="13.7" fill="#7a3d9e"/>
<rect x="297.3" y="1239.5" width="417.7" height="1047.6999999999998" fill="#9a9998"/>
<rect x="298.20" y="1240.40" width="15.80" height="19.78" fill="#e58268"/>
<rect x="315.60" y="1240.40" width="15.80" height="19.78" fill="#f7b799"/>
<rect x="333.01" y="1240.40" width="15.80" height="19.78" fill="#fadccc"/>
<rect x="350.41" y="1240.40" width="15.80" height="19.78" fill="#cd4e44"/>
<rect x="367.82" y="1240.40" width="15.80" height="19.78" fill="#e58268"/>
<rect x="385.22" y="1240.40" width="15.80" height="19.78" fill="#b51e2e"/>
<rect x="402.62" y="1240.40" width="15.80" height="19.78" fill="#eae4e2"/>
<rect x="420.03" y="1240.40" width="15.80" height="19.78" fill="#d5e5ee"/>
<rect x="437.43" y="1240.40" width="15.80" height="19.78" fill="#a7d0e4"/>
<rect x="454.84" y="1240.40" width="15.80" height="19.78" fill="#a7d0e4"/>
<rect x="472.24" y="1240.40" width="15.80" height="19.78" fill="#6aacd0"/>
<rect x="489.65" y="1240.40" width="15.80" height="19.78" fill="#eae4e2"/>
<rect x="507.05" y="1240.40" width="15.80" height="19.78" fill="#6aacd0"/>
<rect x="524.45" y="1240.40" width="15.80" height="19.78" fill="#6aacd0"/>
<rect x="541.86" y="1240.40" width="15.80" height="19.78" fill="#d5e5ee"/>
<rect x="559.26" y="1240.40" width="15.80" height="19.78" fill="#d5e5ee"/>
<rect x="576.67" y="1240.40" width="15.80" height="19.78" fill="#f7b799"/>
<rect x="594.07" y="1240.40" width="15.80" height="19.78" fill="#a7d0e4"/>
<rect x="611.48" y="1240.40" width="15.80" height="19.78" fill="#a7d0e4"/>
<rect x="628.88" y="1240.40" width="15.80" height="19.78" fill="#d5e5ee"/>
<rect x="646.28" y="1240.40" width="15.80" height="19.78" fill="#f7b799"/>
<rect x="663.69" y="1240.40" width="15.80" height="19.78" fill="#6aacd0"/>
<rect x="681.09" y="1240.40" width="15.80" height="19.78" fill="#eae4e2"/>
<rect x="698.50" y="1240.40" width="15.80" height="19.78" fill="#d5e5ee"/>
<g transform="translate(721.8,1253.6) scale(1.1,1)">
<text x="0.0" y="0.0" font-size="20" text-anchor="start" fill="#000" font-weight="bold" font-style="normal" stroke="#000" stroke-width="0.3">2,3-Diphosphoglyceric acid</text>
</g>
<rect x="298.20" y="1261.78" width="15.80" height="19.78" fill="#e58268"/>
<rect x="315.60" y="1261.78" width="15.80" height="19.78" fill="#eae4e2"/>
<rect x="333.01" y="1261.78" width="15.80" height="19.78" fill="#fadccc"/>
<rect x="350.41" y="1261.78" width="15.80" height="19.78" fill="#e58268"/>
<rect x="367.82" y="1261.78" width="15.80" height="19.78" fill="#f7b799"/>
<rect x="385.22" y="1261.78" width="15.80" height="19.78" fill="#8c0c25"/>
<rect x="402.62" y="1261.78" width="15.80" height="19.78" fill="#fadccc"/>
<rect x="420.03" y="1261.78" width="15.80" height="19.78" fill="#eae4e2"/>
<rect x="437.43" y="1261.78" width="15.80" height="19.78" fill="#a7d0e4"/>
<rect x="454.84" y="1261.78" width="15.80" height="19.78" fill="#a7d0e4"/>
<rect x="472.24" y="1261.78" width="15.80" height="19.78" fill="#6aacd0"/>
<rect x="489.65" y="1261.78" width="15.80" height="19.78" fill="#fadccc"/>
<rect x="507.05" y="1261.78" width="15.80" height="19.78" fill="#a7d0e4"/>
<rect x="524.45" y="1261.78" width="15.80" height="19.78" fill="#3884bb"/>
<rect x="541.86" y="1261.78" width="15.80" height="19.78" fill="#a7d0e4"/>
<rect x="559.26" y="1261.78" width="15.80" height="19.78" fill="#a7d0e4"/>
<rect x="576.67" y="1261.78" width="15.80" height="19.78" fill="#fadccc"/>
<rect x="594.07" y="1261.78" width="15.80" height="19.78" fill="#fadccc"/>
<rect x="611.48" y="1261.78" width="15.80" height="19.78" fill="#a7d0e4"/>
<rect x="628.88" y="1261.78" width="15.80" height="19.78" fill="#fadccc"/>
<rect x="646.28" y="1261.78" width="15.80" height="19.78" fill="#f7b799"/>
<rect x="663.69" y="1261.78" width="15.80" height="19.78" fill="#6aacd0"/>
<rect x="681.09" y="1261.78" width="15.80" height="19.78" fill="#fadccc"/>
<rect x="698.50" y="1261.78" width="15.80" height="19.78" fill="#f7b799"/>
<g transform="translate(721.8,1275.0) scale(1.1,1)">
<text x="0.0" y="0.0" font-size="20" text-anchor="start" fill="#000" font-weight="bold" font-style="normal" stroke="#000" stroke-width="0.3">Phosphoribosyl pyrophosphate</text>
</g>
<rect x="298.20" y="1283.16" width="15.80" height="19.78" fill="#e58268"/>
<rect x="315.60" y="1283.16" width="15.80" height="19.78" fill="#f7b799"/>
<rect x="333.01" y="1283.16" width="15.80" height="19.78" fill="#f7b799"/>
<rect x="350.41" y="1283.16" width="15.80" height="19.78" fill="#e58268"/>
<rect x="367.82" y="1283.16" width="15.80" height="19.78" fill="#e58268"/>
<rect x="385.22" y="1283.16" width="15.80" height="19.78" fill="#8c0c25"/>
<rect x="402.62" y="1283.16" width="15.80" height="19.78" fill="#fadccc"/>
<rect x="420.03" y="1283.16" width="15.80" height="19.78" fill="#eae4e2"/>
<rect x="437.43" y="1283.16" width="15.80" height="19.78" fill="#d5e5ee"/>
<rect x="454.84" y="1283.16" width="15.80" height="19.78" fill="#a7d0e4"/>
<rect x="472.24" y="1283.16" width="15.80" height="19.78" fill="#6aacd0"/>
<rect x="489.65" y="1283.16" width="15.80" height="19.78" fill="#e58268"/>
<rect x="507.05" y="1283.16" width="15.80" height="19.78" fill="#6aacd0"/>
<rect x="524.45" y="1283.16" width="15.80" height="19.78" fill="#a7d0e4"/>
<rect x="541.86" y="1283.16" width="15.80" height="19.78" fill="#d5e5ee"/>
<rect x="559.26" y="1283.16" width="15.80" height="19.78" fill="#d5e5ee"/>
<rect x="576.67" y="1283.16" width="15.80" height="19.78" fill="#eae4e2"/>
<rect x="594.07" y="1283.16" width="15.80" height="19.78" fill="#eae4e2"/>
<rect x="611.48" y="1283.16" width="15.80" height="19.78" fill="#6aacd0"/>
<rect x="628.88" y="1283.16" width="15.80" height="19.78" fill="#a7d0e4"/>
<rect x="646.28" y="1283.16" width="15.80" height="19.78" fill="#a7d0e4"/>
<rect x="663.69" y="1283.16" width="15.80" height="19.78" fill="#a7d0e4"/>
<rect x="681.09" y="1283.16" width="15.80" height="19.78" fill="#d5e5ee"/>
<rect x="698.50" y="1283.16" width="15.80" height="19.78" fill="#d5e5ee"/>
<g transform="translate(721.8,1296.5) scale(1.1,1)">
<text x="0.0" y="0.0" font-size="20" text-anchor="start" fill="#000" font-weight="bold" font-style="normal" stroke="#000" stroke-width="0.3">Uridine diphosphate glucuronic acid</text>
</g>
<rect x="298.20" y="1304.54" width="15.80" height="19.78" fill="#e58268"/>
<rect x="315.60" y="1304.54" width="15.80" height="19.78" fill="#f7b799"/>
<rect x="333.01" y="1304.54" width="15.80" height="19.78" fill="#f7b799"/>
<rect x="350.41" y="1304.54" width="15.80" height="19.78" fill="#f7b799"/>
<rect x="367.82" y="1304.54" width="15.80" height="19.78" fill="#e58268"/>
<rect x="385.22" y="1304.54" width="15.80" height="19.78" fill="#8c0c25"/>
<rect x="402.62" y="1304.54" width="15.80" height="19.78" fill="#d5e5ee"/>
<rect x="420.03" y="1304.54" width="15.80" height="19.78" fill="#d5e5ee"/>
<rect x="437.43" y="1304.54" width="15.80" height="19.78" fill="#d5e5ee"/>
<rect x="454.84" y="1304.54" width="15.80" height="19.78" fill="#6aacd0"/>
<rect x="472.24" y="1304.54" width="15.80" height="19.78" fill="#3884bb"/>
<rect x="489.65" y="1304.54" width="15.80" height="19.78" fill="#fadccc"/>
<rect x="507.05" y="1304.54" width="15.80" height="19.78" fill="#3884bb"/>
<rect x="524.45" y="1304.54" width="15.80" height="19.78" fill="#d5e5ee"/>
<rect x="541.86" y="1304.54" width="15.80" height="19.78" fill="#a7d0e4"/>
<rect x="559.26" y="1304.54" width="15.80" height="19.78" fill="#d5e5ee"/>
<rect x="576.67" y="1304.54" width="15.80" height="19.78" fill="#fadccc"/>
<rect x="594.07" y="1304.54" width="15.80" height="19.78" fill="#d5e5ee"/>
<rect x="611.48" y="1304.54" width="15.80" height="19.78" fill="#6aacd0"/>
<rect x="628.88" y="1304.54" width="15.80" height="19.78" fill="#d5e5ee"/>
<rect x="646.28" y="1304.54" width="15.80" height="19.78" fill="#fadccc"/>
<rect x="663.69" y="1304.54" width="15.80" height="19.78" fill="#a7d0e4"/>
<rect x="681.09" y="1304.54" width="15.80" height="19.78" fill="#fadccc"/>
<rect x="698.50" y="1304.54" width="15.80" height="19.78" fill="#f7b799"/>
<g transform="translate(721.8,1317.9) scale(1.1,1)">
<text x="0.0" y="0.0" font-size="20" text-anchor="start" fill="#000" font-weight="bold" font-style="normal" stroke="#000" stroke-width="0.3">Guanosine triphosphate</text>
</g>
<rect x="298.20" y="1325.93" width="15.80" height="19.78" fill="#f7b799"/>
<rect x="315.60" y="1325.93" width="15.80" height="19.78" fill="#f7b799"/>
<rect x="333.01" y="1325.93" width="15.80" height="19.78" fill="#fadccc"/>
<rect x="350.41" y="1325.93" width="15.80" height="19.78" fill="#fadccc"/>
<rect x="367.82" y="1325.93" width="15.80" height="19.78" fill="#f7b799"/>
<rect x="385.22" y="1325.93" width="15.80" height="19.78" fill="#8c0c25"/>
<rect x="402.62" y="1325.93" width="15.80" height="19.78" fill="#fadccc"/>
<rect x="420.03" y="1325.93" width="15.80" height="19.78" fill="#eae4e2"/>
<rect x="437.43" y="1325.93" width="15.80" height="19.78" fill="#d5e5ee"/>
<rect x="454.84" y="1325.93" width="15.80" height="19.78" fill="#6aacd0"/>
<rect x="472.24" y="1325.93" width="15.80" height="19.78" fill="#3884bb"/>
<rect x="489.65" y="1325.93" width="15.80" height="19.78" fill="#f7b799"/>
<rect x="507.05" y="1325.93" width="15.80" height="19.78" fill="#3884bb"/>
<rect x="524.45" y="1325.93" width="15.80" height="19.78" fill="#eae4e2"/>
<rect x="541.86" y="1325.93" width="15.80" height="19.78" fill="#a7d0e4"/>
<rect x="559.26" y="1325.93" width="15.80" height="19.78" fill="#d5e5ee"/>
<rect x="576.67" y="1325.93" width="15.80" height="19.78" fill="#fadccc"/>
<rect x="594.07" y="1325.93" width="15.80" height="19.78" fill="#f7b799"/>
<rect x="611.48" y="1325.93" width="15.80" height="19.78" fill="#6aacd0"/>
<rect x="628.88" y="1325.93" width="15.80" height="19.78" fill="#a7d0e4"/>
<rect x="646.28" y="1325.93" width="15.80" height="19.78" fill="#fadccc"/>
<rect x="663.69" y="1325.93" width="15.80" height="19.78" fill="#6aacd0"/>
<rect x="681.09" y="1325.93" width="15.80" height="19.78" fill="#eae4e2"/>
<rect x="698.50" y="1325.93" width="15.80" height="19.78" fill="#fadccc"/>
<g transform="translate(721.8,1339.4) scale(1.1,1)">
<text x="0.0" y="0.0" font-size="20" text-anchor="start" fill="#000" font-weight="bold" font-style="normal" stroke="#000" stroke-width="0.3">Uridine triphosphate</text>
</g>
<rect x="298.20" y="1347.31" width="15.80" height="19.78" fill="#e58268"/>
<rect x="315.60" y="1347.31" width="15.80" height="19.78" fill="#e58268"/>
<rect x="333.01" y="1347.31" width="15.80" height="19.78" fill="#f7b799"/>
<rect x="350.41" y="1347.31" width="15.80" height="19.78" fill="#f7b799"/>
<rect x="367.82" y="1347.31" width="15.80" height="19.78" fill="#b51e2e"/>
<rect x="385.22" y="1347.31" width="15.80" height="19.78" fill="#e58268"/>
<rect x="402.62" y="1347.31" width="15.80" height="19.78" fill="#d5e5ee"/>
<rect x="420.03" y="1347.31" width="15.80" height="19.78" fill="#d5e5ee"/>
<rect x="437.43" y="1347.31" width="15.80" height="19.78" fill="#a7d0e4"/>
<rect x="454.84" y="1347.31" width="15.80" height="19.78" fill="#6aacd0"/>
<rect x="472.24" y="1347.31" width="15.80" height="19.78" fill="#6aacd0"/>
<rect x="489.65" y="1347.31" width="15.80" height="19.78" fill="#a7d0e4"/>
<rect x="507.05" y="1347.31" width="15.80" height="19.78" fill="#6aacd0"/>
<rect x="524.45" y="1347.31" width="15.80" height="19.78" fill="#fadccc"/>
<rect x="541.86" y="1347.31" width="15.80" height="19.78" fill="#fadccc"/>
<rect x="559.26" y="1347.31" width="15.80" height="19.78" fill="#fadccc"/>
<rect x="576.67" y="1347.31" width="15.80" height="19.78" fill="#fadccc"/>
<rect x="594.07" y="1347.31" width="15.80" height="19.78" fill="#a7d0e4"/>
<rect x="611.48" y="1347.31" width="15.80" height="19.78" fill="#a7d0e4"/>
<rect x="628.88" y="1347.31" width="15.80" height="19.78" fill="#d5e5ee"/>
<rect x="646.28" y="1347.31" width="15.80" height="19.78" fill="#f7b799"/>
<rect x="663.69" y="1347.31" width="15.80" height="19.78" fill="#d5e5ee"/>
<rect x="681.09" y="1347.31" width="15.80" height="19.78" fill="#d5e5ee"/>
<rect x="698.50" y="1347.31" width="15.80" height="19.78" fill="#a7d0e4"/>
<g transform="translate(721.8,1360.8) scale(1.1,1)">
<text x="0.0" y="0.0" font-size="20" text-anchor="start" fill="#000" font-weight="bold" font-style="normal" stroke="#000" stroke-width="0.3">FAD</text>
</g>
<rect x="298.20" y="1368.69" width="15.80" height="19.78" fill="#e58268"/>
<rect x="315.60" y="1368.69" width="15.80" height="19.78" fill="#e58268"/>
<rect x="333.01" y="1368.69" width="15.80" height="19.78" fill="#f7b799"/>
<rect x="350.41" y="1368.69" width="15.80" height="19.78" fill="#f7b799"/>
<rect x="367.82" y="1368.69" width="15.80" height="19.78" fill="#b51e2e"/>
<rect x="385.22" y="1368.69" width="15.80" height="19.78" fill="#e58268"/>
<rect x="402.62" y="1368.69" width="15.80" height="19.78" fill="#fadccc"/>
<rect x="420.03" y="1368.69" width="15.80" height="19.78" fill="#eae4e2"/>
<rect x="437.43" y="1368.69" width="15.80" height="19.78" fill="#d5e5ee"/>
<rect x="454.84" y="1368.69" width="15.80" height="19.78" fill="#a7d0e4"/>
<rect x="472.24" y="1368.69" width="15.80" height="19.78" fill="#3884bb"/>
<rect x="489.65" y="1368.69" width="15.80" height="19.78" fill="#a7d0e4"/>
<rect x="507.05" y="1368.69" width="15.80" height="19.78" fill="#6aacd0"/>
<rect x="524.45" y="1368.69" width="15.80" height="19.78" fill="#a7d0e4"/>
<rect x="541.86" y="1368.69" width="15.80" height="19.78" fill="#d5e5ee"/>
<rect x="559.26" y="1368.69" width="15.80" height="19.78" fill="#eae4e2"/>
<rect x="576.67" y="1368.69" width="15.80" height="19.78" fill="#fadccc"/>
<rect x="594.07" y="1368.69" width="15.80" height="19.78" fill="#a7d0e4"/>
<rect x="611.48" y="1368.69" width="15.80" height="19.78" fill="#6aacd0"/>
<rect x="628.88" y="1368.69" width="15.80" height="19.78" fill="#d5e5ee"/>
<rect x="646.28" y="1368.69" width="15.80" height="19.78" fill="#fadccc"/>
<rect x="663.69" y="1368.69" width="15.80" height="19.78" fill="#a7d0e4"/>
<rect x="681.09" y="1368.69" width="15.80" height="19.78" fill="#d5e5ee"/>
<rect x="698.50" y="1368.69" width="15.80" height="19.78" fill="#a7d0e4"/>
<g transform="translate(721.8,1382.3) scale(1.1,1)">
<text x="0.0" y="0.0" font-size="20" text-anchor="start" fill="#000" font-weight="bold" font-style="normal" stroke="#000" stroke-width="0.3">Cytidine triphosphate</text>
</g>
<rect x="298.20" y="1390.07" width="15.80" height="19.78" fill="#cd4e44"/>
<rect x="315.60" y="1390.07" width="15.80" height="19.78" fill="#e58268"/>
<rect x="333.01" y="1390.07" width="15.80" height="19.78" fill="#f7b799"/>
<rect x="350.41" y="1390.07" width="15.80" height="19.78" fill="#e58268"/>
<rect x="367.82" y="1390.07" width="15.80" height="19.78" fill="#cd4e44"/>
<rect x="385.22" y="1390.07" width="15.80" height="19.78" fill="#f7b799"/>
<rect x="402.62" y="1390.07" width="15.80" height="19.78" fill="#fadccc"/>
<rect x="420.03" y="1390.07" width="15.80" height="19.78" fill="#fadccc"/>
<rect x="437.43" y="1390.07" width="15.80" height="19.78" fill="#eae4e2"/>
<rect x="454.84" y="1390.07" width="15.80" height="19.78" fill="#6aacd0"/>
<rect x="472.24" y="1390.07" width="15.80" height="19.78" fill="#3884bb"/>
<rect x="489.65" y="1390.07" width="15.80" height="19.78" fill="#a7d0e4"/>
<rect x="507.05" y="1390.07" width="15.80" height="19.78" fill="#3884bb"/>
<rect x="524.45" y="1390.07" width="15.80" height="19.78" fill="#fadccc"/>
<rect x="541.86" y="1390.07" width="15.80" height="19.78" fill="#d5e5ee"/>
<rect x="559.26" y="1390.07" width="15.80" height="19.78" fill="#d5e5ee"/>
<rect x="576.67" y="1390.07" width="15.80" height="19.78" fill="#fadccc"/>
<rect x="594.07" y="1390.07" width="15.80" height="19.78" fill="#a7d0e4"/>
<rect x="611.48" y="1390.07" width="15.80" height="19.78" fill="#6aacd0"/>
<rect x="628.88" y="1390.07" width="15.80" height="19.78" fill="#d5e5ee"/>
<rect x="646.28" y="1390.07" width="15.80" height="19.78" fill="#f7b799"/>
<rect x="663.69" y="1390.07" width="15.80" height="19.78" fill="#a7d0e4"/>
<rect x="681.09" y="1390.07" width="15.80" height="19.78" fill="#d5e5ee"/>
<rect x="698.50" y="1390.07" width="15.80" height="19.78" fill="#6aacd0"/>
<g transform="translate(721.8,1403.7) scale(1.1,1)">
<text x="0.0" y="0.0" font-size="20" text-anchor="start" fill="#000" font-weight="bold" font-style="normal" stroke="#000" stroke-width="0.3">ATP</text>
</g>
<rect x="298.20" y="1411.45" width="15.80" height="19.78" fill="#e58268"/>
<rect x="315.60" y="1411.45" width="15.80" height="19.78" fill="#cd4e44"/>
<rect x="333.01" y="1411.45" width="15.80" height="19.78" fill="#e58268"/>
<rect x="350.41" y="1411.45" width="15.80" height="19.78" fill="#cd4e44"/>
<rect x="367.82" y="1411.45" width="15.80" height="19.78" fill="#cd4e44"/>
<rect x="385.22" y="1411.45" width="15.80" height="19.78" fill="#e58268"/>
<rect x="402.62" y="1411.45" width="15.80" height="19.78" fill="#d5e5ee"/>
<rect x="420.03" y="1411.45" width="15.80" height="19.78" fill="#eae4e2"/>
<rect x="437.43" y="1411.45" width="15.80" height="19.78" fill="#d5e5ee"/>
<rect x="454.84" y="1411.45" width="15.80" height="19.78" fill="#a7d0e4"/>
<rect x="472.24" y="1411.45" width="15.80" height="19.78" fill="#6aacd0"/>
<rect x="489.65" y="1411.45" width="15.80" height="19.78" fill="#6aacd0"/>
<rect x="507.05" y="1411.45" width="15.80" height="19.78" fill="#6aacd0"/>
<rect x="524.45" y="1411.45" width="15.80" height="19.78" fill="#eae4e2"/>
<rect x="541.86" y="1411.45" width="15.80" height="19.78" fill="#a7d0e4"/>
<rect x="559.26" y="1411.45" width="15.80" height="19.78" fill="#a7d0e4"/>
<rect x="576.67" y="1411.45" width="15.80" height="19.78" fill="#d5e5ee"/>
<rect x="594.07" y="1411.45" width="15.80" height="19.78" fill="#6aacd0"/>
<rect x="611.48" y="1411.45" width="15.80" height="19.78" fill="#6aacd0"/>
<rect x="628.88" y="1411.45" width="15.80" height="19.78" fill="#d5e5ee"/>
<rect x="646.28" y="1411.45" width="15.80" height="19.78" fill="#eae4e2"/>
<rect x="663.69" y="1411.45" width="15.80" height="19.78" fill="#d5e5ee"/>
<rect x="681.09" y="1411.45" width="15.80" height="19.78" fill="#d5e5ee"/>
<rect x="698.50" y="1411.45" width="15.80" height="19.78" fill="#fadccc"/>
<g transform="translate(721.8,1425.2) scale(1.1,1)">
<text x="0.0" y="0.0" font-size="20" text-anchor="start" fill="#000" font-weight="bold" font-style="normal" stroke="#000" stroke-width="0.3">Acetylcholine</text>
</g>
<rect x="298.20" y="1432.83" width="15.80" height="19.78" fill="#fadccc"/>
<rect x="315.60" y="1432.83" width="15.80" height="19.78" fill="#e58268"/>
<rect x="333.01" y="1432.83" width="15.80" height="19.78" fill="#f7b799"/>
<rect x="350.41" y="1432.83" width="15.80" height="19.78" fill="#e58268"/>
<rect x="367.82" y="1432.83" width="15.80" height="19.78" fill="#cd4e44"/>
<rect x="385.22" y="1432.83" width="15.80" height="19.78" fill="#8c0c25"/>
<rect x="402.62" y="1432.83" width="15.80" height="19.78" fill="#6aacd0"/>
<rect x="420.03" y="1432.83" width="15.80" height="19.78" fill="#a7d0e4"/>
<rect x="437.43" y="1432.83" width="15.80" height="19.78" fill="#a7d0e4"/>
<rect x="454.84" y="1432.83" width="15.80" height="19.78" fill="#a7d0e4"/>
<rect x="472.24" y="1432.83" width="15.80" height="19.78" fill="#a7d0e4"/>
<rect x="489.65" y="1432.83" width="15.80" height="19.78" fill="#6aacd0"/>
<rect x="507.05" y="1432.83" width="15.80" height="19.78" fill="#a7d0e4"/>
<rect x="524.45" y="1432.83" width="15.80" height="19.78" fill="#fadccc"/>
<rect x="541.86" y="1432.83" width="15.80" height="19.78" fill="#d5e5ee"/>
<rect x="559.26" y="1432.83" width="15.80" height="19.78" fill="#d5e5ee"/>
<rect x="576.67" y="1432.83" width="15.80" height="19.78" fill="#d5e5ee"/>
<rect x="594.07" y="1432.83" width="15.80" height="19.78" fill="#6aacd0"/>
<rect x="611.48" y="1432.83" width="15.80" height="19.78" fill="#a7d0e4"/>
<rect x="628.88" y="1432.83" width="15.80" height="19.78" fill="#f7b799"/>
<rect x="646.28" y="1432.83" width="15.80" height="19.78" fill="#eae4e2"/>
<rect x="663.69" y="1432.83" width="15.80" height="19.78" fill="#d5e5ee"/>
<rect x="681.09" y="1432.83" width="15.80" height="19.78" fill="#a7d0e4"/>
<rect x="698.50" y="1432.83" width="15.80" height="19.78" fill="#eae4e2"/>
<g transform="translate(721.8,1446.6) scale(1.1,1)">
<text x="0.0" y="0.0" font-size="20" text-anchor="start" fill="#000" font-weight="bold" font-style="normal" stroke="#000" stroke-width="0.3">Acetyl-CoA</text>
</g>
<rect x="298.20" y="1454.22" width="15.80" height="19.78" fill="#fadccc"/>
<rect x="315.60" y="1454.22" width="15.80" height="19.78" fill="#f7b799"/>
<rect x="333.01" y="1454.22" width="15.80" height="19.78" fill="#e58268"/>
<rect x="350.41" y="1454.22" width="15.80" height="19.78" fill="#fadccc"/>
<rect x="367.82" y="1454.22" width="15.80" height="19.78" fill="#e58268"/>
<rect x="385.22" y="1454.22" width="15.80" height="19.78" fill="#f7b799"/>
<rect x="402.62" y="1454.22" width="15.80" height="19.78" fill="#6aacd0"/>
<rect x="420.03" y="1454.22" width="15.80" height="19.78" fill="#6aacd0"/>
<rect x="437.43" y="1454.22" width="15.80" height="19.78" fill="#fadccc"/>
<rect x="454.84" y="1454.22" width="15.80" height="19.78" fill="#6aacd0"/>
<rect x="472.24" y="1454.22" width="15.80" height="19.78" fill="#6aacd0"/>
<rect x="489.65" y="1454.22" width="15.80" height="19.78" fill="#fadccc"/>
<rect x="507.05" y="1454.22" width="15.80" height="19.78" fill="#6aacd0"/>
<rect x="524.45" y="1454.22" width="15.80" height="19.78" fill="#f7b799"/>
<rect x="541.86" y="1454.22" width="15.80" height="19.78" fill="#6aacd0"/>
<rect x="559.26" y="1454.22" width="15.80" height="19.78" fill="#6aacd0"/>
<rect x="576.67" y="1454.22" width="15.80" height="19.78" fill="#fadccc"/>
<rect x="594.07" y="1454.22" width="15.80" height="19.78" fill="#f7b799"/>
<rect x="611.48" y="1454.22" width="15.80" height="19.78" fill="#e58268"/>
<rect x="628.88" y="1454.22" width="15.80" height="19.78" fill="#f7b799"/>
<rect x="646.28" y="1454.22" width="15.80" height="19.78" fill="#eae4e2"/>
<rect x="663.69" y="1454.22" width="15.80" height="19.78" fill="#6aacd0"/>
<rect x="681.09" y="1454.22" width="15.80" height="19.78" fill="#f7b799"/>
<rect x="698.50" y="1454.22" width="15.80" height="19.78" fill="#6aacd0"/>
<g transform="translate(721.8,1468.0) scale(1.1,1)">
<text x="0.0" y="0.0" font-size="20" text-anchor="start" fill="#000" font-weight="bold" font-style="normal" stroke="#000" stroke-width="0.3">Glycyl-glycine</text>
</g>
<rect x="298.20" y="1475.60" width="15.80" height="19.78" fill="#eae4e2"/>
<rect x="315.60" y="1475.60" width="15.80" height="19.78" fill="#cd4e44"/>
<rect x="333.01" y="1475.60" width="15.80" height="19.78" fill="#f7b799"/>
<rect x="350.41" y="1475.60" width="15.80" height="19.78" fill="#f7b799"/>
<rect x="367.82" y="1475.60" width="15.80" height="19.78" fill="#fadccc"/>
<rect x="385.22" y="1475.60" width="15.80" height="19.78" fill="#cd4e44"/>
<rect x="402.62" y="1475.60" width="15.80" height="19.78" fill="#d5e5ee"/>
<rect x="420.03" y="1475.60" width="15.80" height="19.78" fill="#fadccc"/>
<rect x="437.43" y="1475.60" width="15.80" height="19.78" fill="#eae4e2"/>
<rect x="454.84" y="1475.60" width="15.80" height="19.78" fill="#a7d0e4"/>
<rect x="472.24" y="1475.60" width="15.80" height="19.78" fill="#3884bb"/>
<rect x="489.65" y="1475.60" width="15.80" height="19.78" fill="#a7d0e4"/>
<rect x="507.05" y="1475.60" width="15.80" height="19.78" fill="#a7d0e4"/>
<rect x="524.45" y="1475.60" width="15.80" height="19.78" fill="#fadccc"/>
<rect x="541.86" y="1475.60" width="15.80" height="19.78" fill="#6aacd0"/>
<rect x="559.26" y="1475.60" width="15.80" height="19.78" fill="#e58268"/>
<rect x="576.67" y="1475.60" width="15.80" height="19.78" fill="#6aacd0"/>
<rect x="594.07" y="1475.60" width="15.80" height="19.78" fill="#a7d0e4"/>
<rect x="611.48" y="1475.60" width="15.80" height="19.78" fill="#a7d0e4"/>
<rect x="628.88" y="1475.60" width="15.80" height="19.78" fill="#fadccc"/>
<rect x="646.28" y="1475.60" width="15.80" height="19.78" fill="#a7d0e4"/>
<rect x="663.69" y="1475.60" width="15.80" height="19.78" fill="#fadccc"/>
<rect x="681.09" y="1475.60" width="15.80" height="19.78" fill="#cd4e44"/>
<rect x="698.50" y="1475.60" width="15.80" height="19.78" fill="#a7d0e4"/>
<g transform="translate(721.8,1489.5) scale(1.1,1)">
<text x="0.0" y="0.0" font-size="20" text-anchor="start" fill="#000" font-weight="bold" font-style="normal" stroke="#000" stroke-width="0.3">Azelaic acid</text>
</g>
<rect x="298.20" y="1496.98" width="15.80" height="19.78" fill="#b51e2e"/>
<rect x="315.60" y="1496.98" width="15.80" height="19.78" fill="#e58268"/>
<rect x="333.01" y="1496.98" width="15.80" height="19.78" fill="#fadccc"/>
<rect x="350.41" y="1496.98" width="15.80" height="19.78" fill="#fadccc"/>
<rect x="367.82" y="1496.98" width="15.80" height="19.78" fill="#fadccc"/>
<rect x="385.22" y="1496.98" width="15.80" height="19.78" fill="#fadccc"/>
<rect x="402.62" y="1496.98" width="15.80" height="19.78" fill="#fadccc"/>
<rect x="420.03" y="1496.98" width="15.80" height="19.78" fill="#fadccc"/>
<rect x="437.43" y="1496.98" width="15.80" height="19.78" fill="#a7d0e4"/>
<rect x="454.84" y="1496.98" width="15.80" height="19.78" fill="#a7d0e4"/>
<rect x="472.24" y="1496.98" width="15.80" height="19.78" fill="#6aacd0"/>
<rect x="489.65" y="1496.98" width="15.80" height="19.78" fill="#6aacd0"/>
<rect x="507.05" y="1496.98" width="15.80" height="19.78" fill="#a7d0e4"/>
<rect x="524.45" y="1496.98" width="15.80" height="19.78" fill="#e58268"/>
<rect x="541.86" y="1496.98" width="15.80" height="19.78" fill="#fadccc"/>
<rect x="559.26" y="1496.98" width="15.80" height="19.78" fill="#a7d0e4"/>
<rect x="576.67" y="1496.98" width="15.80" height="19.78" fill="#d5e5ee"/>
<rect x="594.07" y="1496.98" width="15.80" height="19.78" fill="#6aacd0"/>
<rect x="611.48" y="1496.98" width="15.80" height="19.78" fill="#d5e5ee"/>
<rect x="628.88" y="1496.98" width="15.80" height="19.78" fill="#e58268"/>
<rect x="646.28" y="1496.98" width="15.80" height="19.78" fill="#f7b799"/>
<rect x="663.69" y="1496.98" width="15.80" height="19.78" fill="#a7d0e4"/>
<rect x="681.09" y="1496.98" width="15.80" height="19.78" fill="#a7d0e4"/>
<rect x="698.50" y="1496.98" width="15.80" height="19.78" fill="#6aacd0"/>
<g transform="translate(721.8,1510.9) scale(1.1,1)">
<text x="0.0" y="0.0" font-size="20" text-anchor="start" fill="#000" font-weight="bold" font-style="normal" stroke="#000" stroke-width="0.3">Coenzyme A</text>
</g>
<rect x="298.20" y="1518.36" width="15.80" height="19.78" fill="#cd4e44"/>
<rect x="315.60" y="1518.36" width="15.80" height="19.78" fill="#e58268"/>
<rect x="333.01" y="1518.36" width="15.80" height="19.78" fill="#fadccc"/>
<rect x="350.41" y="1518.36" width="15.80" height="19.78" fill="#f7b799"/>
<rect x="367.82" y="1518.36" width="15.80" height="19.78" fill="#fadccc"/>
<rect x="385.22" y="1518.36" width="15.80" height="19.78" fill="#e58268"/>
<rect x="402.62" y="1518.36" width="15.80" height="19.78" fill="#f7b799"/>
<rect x="420.03" y="1518.36" width="15.80" height="19.78" fill="#fadccc"/>
<rect x="437.43" y="1518.36" width="15.80" height="19.78" fill="#eae4e2"/>
<rect x="454.84" y="1518.36" width="15.80" height="19.78" fill="#3884bb"/>
<rect x="472.24" y="1518.36" width="15.80" height="19.78" fill="#1c5da0"/>
<rect x="489.65" y="1518.36" width="15.80" height="19.78" fill="#6aacd0"/>
<rect x="507.05" y="1518.36" width="15.80" height="19.78" fill="#d5e5ee"/>
<rect x="524.45" y="1518.36" width="15.80" height="19.78" fill="#d5e5ee"/>
<rect x="541.86" y="1518.36" width="15.80" height="19.78" fill="#d5e5ee"/>
<rect x="559.26" y="1518.36" width="15.80" height="19.78" fill="#d5e5ee"/>
<rect x="576.67" y="1518.36" width="15.80" height="19.78" fill="#fadccc"/>
<rect x="594.07" y="1518.36" width="15.80" height="19.78" fill="#a7d0e4"/>
<rect x="611.48" y="1518.36" width="15.80" height="19.78" fill="#eae4e2"/>
<rect x="628.88" y="1518.36" width="15.80" height="19.78" fill="#eae4e2"/>
<rect x="646.28" y="1518.36" width="15.80" height="19.78" fill="#fadccc"/>
<rect x="663.69" y="1518.36" width="15.80" height="19.78" fill="#a7d0e4"/>
<rect x="681.09" y="1518.36" width="15.80" height="19.78" fill="#fadccc"/>
<rect x="698.50" y="1518.36" width="15.80" height="19.78" fill="#6aacd0"/>
<g transform="translate(721.8,1532.4) scale(1.1,1)">
<text x="0.0" y="0.0" font-size="20" text-anchor="start" fill="#000" font-weight="bold" font-style="normal" stroke="#000" stroke-width="0.3">NADPH</text>
</g>
<rect x="298.20" y="1539.74" width="15.80" height="19.78" fill="#cd4e44"/>
<rect x="315.60" y="1539.74" width="15.80" height="19.78" fill="#e58268"/>
<rect x="333.01" y="1539.74" width="15.80" height="19.78" fill="#f7b799"/>
<rect x="350.41" y="1539.74" width="15.80" height="19.78" fill="#eae4e2"/>
<rect x="367.82" y="1539.74" width="15.80" height="19.78" fill="#fadccc"/>
<rect x="385.22" y="1539.74" width="15.80" height="19.78" fill="#b51e2e"/>
<rect x="402.62" y="1539.74" width="15.80" height="19.78" fill="#fadccc"/>
<rect x="420.03" y="1539.74" width="15.80" height="19.78" fill="#f7b799"/>
<rect x="437.43" y="1539.74" width="15.80" height="19.78" fill="#fadccc"/>
<rect x="454.84" y="1539.74" width="15.80" height="19.78" fill="#d5e5ee"/>
<rect x="472.24" y="1539.74" width="15.80" height="19.78" fill="#6aacd0"/>
<rect x="489.65" y="1539.74" width="15.80" height="19.78" fill="#a7d0e4"/>
<rect x="507.05" y="1539.74" width="15.80" height="19.78" fill="#a7d0e4"/>
<rect x="524.45" y="1539.74" width="15.80" height="19.78" fill="#fadccc"/>
<rect x="541.86" y="1539.74" width="15.80" height="19.78" fill="#a7d0e4"/>
<rect x="559.26" y="1539.74" width="15.80" height="19.78" fill="#eae4e2"/>
<rect x="576.67" y="1539.74" width="15.80" height="19.78" fill="#fadccc"/>
<rect x="594.07" y="1539.74" width="15.80" height="19.78" fill="#6aacd0"/>
<rect x="611.48" y="1539.74" width="15.80" height="19.78" fill="#fadccc"/>
<rect x="628.88" y="1539.74" width="15.80" height="19.78" fill="#d5e5ee"/>
<rect x="646.28" y="1539.74" width="15.80" height="19.78" fill="#a7d0e4"/>
<rect x="663.69" y="1539.74" width="15.80" height="19.78" fill="#6aacd0"/>
<rect x="681.09" y="1539.74" width="15.80" height="19.78" fill="#eae4e2"/>
<rect x="698.50" y="1539.74" width="15.80" height="19.78" fill="#6aacd0"/>
<g transform="translate(721.8,1553.8) scale(1.1,1)">
<text x="0.0" y="0.0" font-size="20" text-anchor="start" fill="#000" font-weight="bold" font-style="normal" stroke="#000" stroke-width="0.3">Caprylic acid</text>
</g>
<rect x="298.20" y="1561.12" width="15.80" height="19.78" fill="#e58268"/>
<rect x="315.60" y="1561.12" width="15.80" height="19.78" fill="#d5e5ee"/>
<rect x="333.01" y="1561.12" width="15.80" height="19.78" fill="#fadccc"/>
<rect x="350.41" y="1561.12" width="15.80" height="19.78" fill="#f7b799"/>
<rect x="367.82" y="1561.12" width="15.80" height="19.78" fill="#f7b799"/>
<rect x="385.22" y="1561.12" width="15.80" height="19.78" fill="#e58268"/>
<rect x="402.62" y="1561.12" width="15.80" height="19.78" fill="#eae4e2"/>
<rect x="420.03" y="1561.12" width="15.80" height="19.78" fill="#fadccc"/>
<rect x="437.43" y="1561.12" width="15.80" height="19.78" fill="#eae4e2"/>
<rect x="454.84" y="1561.12" width="15.80" height="19.78" fill="#d5e5ee"/>
<rect x="472.24" y="1561.12" width="15.80" height="19.78" fill="#3884bb"/>
<rect x="489.65" y="1561.12" width="15.80" height="19.78" fill="#a7d0e4"/>
<rect x="507.05" y="1561.12" width="15.80" height="19.78" fill="#e58268"/>
<rect x="524.45" y="1561.12" width="15.80" height="19.78" fill="#1c5da0"/>
<rect x="541.86" y="1561.12" width="15.80" height="19.78" fill="#d5e5ee"/>
<rect x="559.26" y="1561.12" width="15.80" height="19.78" fill="#a7d0e4"/>
<rect x="576.67" y="1561.12" width="15.80" height="19.78" fill="#e58268"/>
<rect x="594.07" y="1561.12" width="15.80" height="19.78" fill="#eae4e2"/>
<rect x="611.48" y="1561.12" width="15.80" height="19.78" fill="#eae4e2"/>
<rect x="628.88" y="1561.12" width="15.80" height="19.78" fill="#d5e5ee"/>
<rect x="646.28" y="1561.12" width="15.80" height="19.78" fill="#f7b799"/>
<rect x="663.69" y="1561.12" width="15.80" height="19.78" fill="#a7d0e4"/>
<rect x="681.09" y="1561.12" width="15.80" height="19.78" fill="#eae4e2"/>
<rect x="698.50" y="1561.12" width="15.80" height="19.78" fill="#eae4e2"/>
<g transform="translate(721.8,1575.3) scale(1.1,1)">
<text x="0.0" y="0.0" font-size="20" text-anchor="start" fill="#000" font-weight="bold" font-style="normal" stroke="#000" stroke-width="0.3">D-Ribulose 1,5-bisphosphate</text>
</g>
<rect x="298.20" y="1582.51" width="15.80" height="19.78" fill="#e58268"/>
<rect x="315.60" y="1582.51" width="15.80" height="19.78" fill="#f7b799"/>
<rect x="333.01" y="1582.51" width="15.80" height="19.78" fill="#cd4e44"/>
<rect x="350.41" y="1582.51" width="15.80" height="19.78" fill="#f7b799"/>
<rect x="367.82" y="1582.51" width="15.80" height="19.78" fill="#fadccc"/>
<rect x="385.22" y="1582.51" width="15.80" height="19.78" fill="#f7b799"/>
<rect x="402.62" y="1582.51" width="15.80" height="19.78" fill="#6aacd0"/>
<rect x="420.03" y="1582.51" width="15.80" height="19.78" fill="#a7d0e4"/>
<rect x="437.43" y="1582.51" width="15.80" height="19.78" fill="#6aacd0"/>
<rect x="454.84" y="1582.51" width="15.80" height="19.78" fill="#d5e5ee"/>
<rect x="472.24" y="1582.51" width="15.80" height="19.78" fill="#a7d0e4"/>
<rect x="489.65" y="1582.51" width="15.80" height="19.78" fill="#a7d0e4"/>
<rect x="507.05" y="1582.51" width="15.80" height="19.78" fill="#eae4e2"/>
<rect x="524.45" y="1582.51" width="15.80" height="19.78" fill="#6aacd0"/>
<rect x="541.86" y="1582.51" width="15.80" height="19.78" fill="#e58268"/>
<rect x="559.26" y="1582.51" width="15.80" height="19.78" fill="#e58268"/>
<rect x="576.67" y="1582.51" width="15.80" height="19.78" fill="#fadccc"/>
<rect x="594.07" y="1582.51" width="15.80" height="19.78" fill="#d5e5ee"/>
<rect x="611.48" y="1582.51" width="15.80" height="19.78" fill="#6aacd0"/>
<rect x="628.88" y="1582.51" width="15.80" height="19.78" fill="#eae4e2"/>
<rect x="646.28" y="1582.51" width="15.80" height="19.78" fill="#e58268"/>
<rect x="663.69" y="1582.51" width="15.80" height="19.78" fill="#a7d0e4"/>
<rect x="681.09" y="1582.51" width="15.80" height="19.78" fill="#fadccc"/>
<rect x="698.50" y="1582.51" width="15.80" height="19.78" fill="#3884bb"/>
<g transform="translate(721.8,1596.7) scale(1.1,1)">
<text x="0.0" y="0.0" font-size="20" text-anchor="start" fill="#000" font-weight="bold" font-style="normal" stroke="#000" stroke-width="0.3">Guanosine triphosphate</text>
</g>
<rect x="298.20" y="1603.89" width="15.80" height="19.78" fill="#e58268"/>
<rect x="315.60" y="1603.89" width="15.80" height="19.78" fill="#f7b799"/>
<rect x="333.01" y="1603.89" width="15.80" height="19.78" fill="#e58268"/>
<rect x="350.41" y="1603.89" width="15.80" height="19.78" fill="#cd4e44"/>
<rect x="367.82" y="1603.89" width="15.80" height="19.78" fill="#d5e5ee"/>
<rect x="385.22" y="1603.89" width="15.80" height="19.78" fill="#e58268"/>
<rect x="402.62" y="1603.89" width="15.80" height="19.78" fill="#a7d0e4"/>
<rect x="420.03" y="1603.89" width="15.80" height="19.78" fill="#a7d0e4"/>
<rect x="437.43" y="1603.89" width="15.80" height="19.78" fill="#6aacd0"/>
<rect x="454.84" y="1603.89" width="15.80" height="19.78" fill="#fadccc"/>
<rect x="472.24" y="1603.89" width="15.80" height="19.78" fill="#e58268"/>
<rect x="489.65" y="1603.89" width="15.80" height="19.78" fill="#6aacd0"/>
<rect x="507.05" y="1603.89" width="15.80" height="19.78" fill="#f7b799"/>
<rect x="524.45" y="1603.89" width="15.80" height="19.78" fill="#3884bb"/>
<rect x="541.86" y="1603.89" width="15.80" height="19.78" fill="#a7d0e4"/>
<rect x="559.26" y="1603.89" width="15.80" height="19.78" fill="#fadccc"/>
<rect x="576.67" y="1603.89" width="15.80" height="19.78" fill="#fadccc"/>
<rect x="594.07" y="1603.89" width="15.80" height="19.78" fill="#a7d0e4"/>
<rect x="611.48" y="1603.89" width="15.80" height="19.78" fill="#eae4e2"/>
<rect x="628.88" y="1603.89" width="15.80" height="19.78" fill="#eae4e2"/>
<rect x="646.28" y="1603.89" width="15.80" height="19.78" fill="#a7d0e4"/>
<rect x="663.69" y="1603.89" width="15.80" height="19.78" fill="#a7d0e4"/>
<rect x="681.09" y="1603.89" width="15.80" height="19.78" fill="#fadccc"/>
<rect x="698.50" y="1603.89" width="15.80" height="19.78" fill="#a7d0e4"/>
<g transform="translate(721.8,1618.1) scale(1.1,1)">
<text x="0.0" y="0.0" font-size="20" text-anchor="start" fill="#000" font-weight="bold" font-style="normal" stroke="#000" stroke-width="0.3">Dihydrobiopterin</text>
</g>
<rect x="298.20" y="1625.27" width="15.80" height="19.78" fill="#f7b799"/>
<rect x="315.60" y="1625.27" width="15.80" height="19.78" fill="#cd4e44"/>
<rect x="333.01" y="1625.27" width="15.80" height="19.78" fill="#fadccc"/>
<rect x="350.41" y="1625.27" width="15.80" height="19.78" fill="#e58268"/>
<rect x="367.82" y="1625.27" width="15.80" height="19.78" fill="#e58268"/>
<rect x="385.22" y="1625.27" width="15.80" height="19.78" fill="#f7b799"/>
<rect x="402.62" y="1625.27" width="15.80" height="19.78" fill="#eae4e2"/>
<rect x="420.03" y="1625.27" width="15.80" height="19.78" fill="#a7d0e4"/>
<rect x="437.43" y="1625.27" width="15.80" height="19.78" fill="#eae4e2"/>
<rect x="454.84" y="1625.27" width="15.80" height="19.78" fill="#3884bb"/>
<rect x="472.24" y="1625.27" width="15.80" height="19.78" fill="#d5e5ee"/>
<rect x="489.65" y="1625.27" width="15.80" height="19.78" fill="#d5e5ee"/>
<rect x="507.05" y="1625.27" width="15.80" height="19.78" fill="#f7b799"/>
<rect x="524.45" y="1625.27" width="15.80" height="19.78" fill="#f7b799"/>
<rect x="541.86" y="1625.27" width="15.80" height="19.78" fill="#fadccc"/>
<rect x="559.26" y="1625.27" width="15.80" height="19.78" fill="#fadccc"/>
<rect x="576.67" y="1625.27" width="15.80" height="19.78" fill="#f7b799"/>
<rect x="594.07" y="1625.27" width="15.80" height="19.78" fill="#fadccc"/>
<rect x="611.48" y="1625.27" width="15.80" height="19.78" fill="#3884bb"/>
<rect x="628.88" y="1625.27" width="15.80" height="19.78" fill="#6aacd0"/>
<rect x="646.28" y="1625.27" width="15.80" height="19.78" fill="#6aacd0"/>
<rect x="663.69" y="1625.27" width="15.80" height="19.78" fill="#a7d0e4"/>
<rect x="681.09" y="1625.27" width="15.80" height="19.78" fill="#6aacd0"/>
<rect x="698.50" y="1625.27" width="15.80" height="19.78" fill="#d5e5ee"/>
<g transform="translate(721.8,1639.6) scale(1.1,1)">
<text x="0.0" y="0.0" font-size="20" text-anchor="start" fill="#000" font-weight="bold" font-style="normal" stroke="#000" stroke-width="0.3">Saccharopine</text>
</g>
<rect x="298.20" y="1646.65" width="15.80" height="19.78" fill="#e58268"/>
<rect x="315.60" y="1646.65" width="15.80" height="19.78" fill="#f7b799"/>
<rect x="333.01" y="1646.65" width="15.80" height="19.78" fill="#f7b799"/>
<rect x="350.41" y="1646.65" width="15.80" height="19.78" fill="#f7b799"/>
<rect x="367.82" y="1646.65" width="15.80" height="19.78" fill="#7a0622"/>
<rect x="385.22" y="1646.65" width="15.80" height="19.78" fill="#f7b799"/>
<rect x="402.62" y="1646.65" width="15.80" height="19.78" fill="#fadccc"/>
<rect x="420.03" y="1646.65" width="15.80" height="19.78" fill="#fadccc"/>
<rect x="437.43" y="1646.65" width="15.80" height="19.78" fill="#eae4e2"/>
<rect x="454.84" y="1646.65" width="15.80" height="19.78" fill="#d5e5ee"/>
<rect x="472.24" y="1646.65" width="15.80" height="19.78" fill="#d5e5ee"/>
<rect x="489.65" y="1646.65" width="15.80" height="19.78" fill="#d5e5ee"/>
<rect x="507.05" y="1646.65" width="15.80" height="19.78" fill="#a7d0e4"/>
<rect x="524.45" y="1646.65" width="15.80" height="19.78" fill="#3884bb"/>
<rect x="541.86" y="1646.65" width="15.80" height="19.78" fill="#fadccc"/>
<rect x="559.26" y="1646.65" width="15.80" height="19.78" fill="#fadccc"/>
<rect x="576.67" y="1646.65" width="15.80" height="19.78" fill="#d5e5ee"/>
<rect x="594.07" y="1646.65" width="15.80" height="19.78" fill="#eae4e2"/>
<rect x="611.48" y="1646.65" width="15.80" height="19.78" fill="#a7d0e4"/>
<rect x="628.88" y="1646.65" width="15.80" height="19.78" fill="#3884bb"/>
<rect x="646.28" y="1646.65" width="15.80" height="19.78" fill="#d5e5ee"/>
<rect x="663.69" y="1646.65" width="15.80" height="19.78" fill="#d5e5ee"/>
<rect x="681.09" y="1646.65" width="15.80" height="19.78" fill="#a7d0e4"/>
<rect x="698.50" y="1646.65" width="15.80" height="19.78" fill="#a7d0e4"/>
<g transform="translate(721.8,1661.0) scale(1.1,1)">
<text x="0.0" y="0.0" font-size="20" text-anchor="start" fill="#000" font-weight="bold" font-style="normal" stroke="#000" stroke-width="0.3">Phosphorylcholine</text>
</g>
<rect x="298.20" y="1668.03" width="15.80" height="19.78" fill="#eae4e2"/>
<rect x="315.60" y="1668.03" width="15.80" height="19.78" fill="#eae4e2"/>
<rect x="333.01" y="1668.03" width="15.80" height="19.78" fill="#d5e5ee"/>
<rect x="350.41" y="1668.03" width="15.80" height="19.78" fill="#e58268"/>
<rect x="367.82" y="1668.03" width="15.80" height="19.78" fill="#7a0622"/>
<rect x="385.22" y="1668.03" width="15.80" height="19.78" fill="#eae4e2"/>
<rect x="402.62" y="1668.03" width="15.80" height="19.78" fill="#d5e5ee"/>
<rect x="420.03" y="1668.03" width="15.80" height="19.78" fill="#d5e5ee"/>
<rect x="437.43" y="1668.03" width="15.80" height="19.78" fill="#a7d0e4"/>
<rect x="454.84" y="1668.03" width="15.80" height="19.78" fill="#eae4e2"/>
<rect x="472.24" y="1668.03" width="15.80" height="19.78" fill="#d5e5ee"/>
<rect x="489.65" y="1668.03" width="15.80" height="19.78" fill="#a7d0e4"/>
<rect x="507.05" y="1668.03" width="15.80" height="19.78" fill="#fadccc"/>
<rect x="524.45" y="1668.03" width="15.80" height="19.78" fill="#a7d0e4"/>
<rect x="541.86" y="1668.03" width="15.80" height="19.78" fill="#f7b799"/>
<rect x="559.26" y="1668.03" width="15.80" height="19.78" fill="#a7d0e4"/>
<rect x="576.67" y="1668.03" width="15.80" height="19.78" fill="#f7b799"/>
<rect x="594.07" y="1668.03" width="15.80" height="19.78" fill="#cd4e44"/>
<rect x="611.48" y="1668.03" width="15.80" height="19.78" fill="#a7d0e4"/>
<rect x="628.88" y="1668.03" width="15.80" height="19.78" fill="#6aacd0"/>
<rect x="646.28" y="1668.03" width="15.80" height="19.78" fill="#d5e5ee"/>
<rect x="663.69" y="1668.03" width="15.80" height="19.78" fill="#a7d0e4"/>
<rect x="681.09" y="1668.03" width="15.80" height="19.78" fill="#a7d0e4"/>
<rect x="698.50" y="1668.03" width="15.80" height="19.78" fill="#eae4e2"/>
<g transform="translate(721.8,1682.5) scale(1.1,1)">
<text x="0.0" y="0.0" font-size="20" text-anchor="start" fill="#000" font-weight="bold" font-style="normal" stroke="#000" stroke-width="0.3">Sarcosine</text>
</g>
<rect x="298.20" y="1689.41" width="15.80" height="19.78" fill="#eae4e2"/>
<rect x="315.60" y="1689.41" width="15.80" height="19.78" fill="#d5e5ee"/>
<rect x="333.01" y="1689.41" width="15.80" height="19.78" fill="#b51e2e"/>
<rect x="350.41" y="1689.41" width="15.80" height="19.78" fill="#e58268"/>
<rect x="367.82" y="1689.41" width="15.80" height="19.78" fill="#f7b799"/>
<rect x="385.22" y="1689.41" width="15.80" height="19.78" fill="#e58268"/>
<rect x="402.62" y="1689.41" width="15.80" height="19.78" fill="#a7d0e4"/>
<rect x="420.03" y="1689.41" width="15.80" height="19.78" fill="#eae4e2"/>
<rect x="437.43" y="1689.41" width="15.80" height="19.78" fill="#3884bb"/>
<rect x="454.84" y="1689.41" width="15.80" height="19.78" fill="#3884bb"/>
<rect x="472.24" y="1689.41" width="15.80" height="19.78" fill="#a7d0e4"/>
<rect x="489.65" y="1689.41" width="15.80" height="19.78" fill="#fadccc"/>
<rect x="507.05" y="1689.41" width="15.80" height="19.78" fill="#f7b799"/>
<rect x="524.45" y="1689.41" width="15.80" height="19.78" fill="#d5e5ee"/>
<rect x="541.86" y="1689.41" width="15.80" height="19.78" fill="#fadccc"/>
<rect x="559.26" y="1689.41" width="15.80" height="19.78" fill="#a7d0e4"/>
<rect x="576.67" y="1689.41" width="15.80" height="19.78" fill="#f7b799"/>
<rect x="594.07" y="1689.41" width="15.80" height="19.78" fill="#eae4e2"/>
<rect x="611.48" y="1689.41" width="15.80" height="19.78" fill="#eae4e2"/>
<rect x="628.88" y="1689.41" width="15.80" height="19.78" fill="#6aacd0"/>
<rect x="646.28" y="1689.41" width="15.80" height="19.78" fill="#eae4e2"/>
<rect x="663.69" y="1689.41" width="15.80" height="19.78" fill="#eae4e2"/>
<rect x="681.09" y="1689.41" width="15.80" height="19.78" fill="#d5e5ee"/>
<rect x="698.50" y="1689.41" width="15.80" height="19.78" fill="#e58268"/>
<g transform="translate(721.8,1703.9) scale(1.1,1)">
<text x="0.0" y="0.0" font-size="20" text-anchor="start" fill="#000" font-weight="bold" font-style="normal" stroke="#000" stroke-width="0.3">Adenosine 3&#39;,5&#39;-diphosphate</text>
</g>
<rect x="298.20" y="1710.80" width="15.80" height="19.78" fill="#f7b799"/>
<rect x="315.60" y="1710.80" width="15.80" height="19.78" fill="#f7b799"/>
<rect x="333.01" y="1710.80" width="15.80" height="19.78" fill="#b51e2e"/>
<rect x="350.41" y="1710.80" width="15.80" height="19.78" fill="#cd4e44"/>
<rect x="367.82" y="1710.80" width="15.80" height="19.78" fill="#cd4e44"/>
<rect x="385.22" y="1710.80" width="15.80" height="19.78" fill="#e58268"/>
<rect x="402.62" y="1710.80" width="15.80" height="19.78" fill="#6aacd0"/>
<rect x="420.03" y="1710.80" width="15.80" height="19.78" fill="#6aacd0"/>
<rect x="437.43" y="1710.80" width="15.80" height="19.78" fill="#6aacd0"/>
<rect x="454.84" y="1710.80" width="15.80" height="19.78" fill="#d5e5ee"/>
<rect x="472.24" y="1710.80" width="15.80" height="19.78" fill="#a7d0e4"/>
<rect x="489.65" y="1710.80" width="15.80" height="19.78" fill="#eae4e2"/>
<rect x="507.05" y="1710.80" width="15.80" height="19.78" fill="#6aacd0"/>
<rect x="524.45" y="1710.80" width="15.80" height="19.78" fill="#d5e5ee"/>
<rect x="541.86" y="1710.80" width="15.80" height="19.78" fill="#eae4e2"/>
<rect x="559.26" y="1710.80" width="15.80" height="19.78" fill="#eae4e2"/>
<rect x="576.67" y="1710.80" width="15.80" height="19.78" fill="#f7b799"/>
<rect x="594.07" y="1710.80" width="15.80" height="19.78" fill="#eae4e2"/>
<rect x="611.48" y="1710.80" width="15.80" height="19.78" fill="#6aacd0"/>
<rect x="628.88" y="1710.80" width="15.80" height="19.78" fill="#6aacd0"/>
<rect x="646.28" y="1710.80" width="15.80" height="19.78" fill="#a7d0e4"/>
<rect x="663.69" y="1710.80" width="15.80" height="19.78" fill="#eae4e2"/>
<rect x="681.09" y="1710.80" width="15.80" height="19.78" fill="#eae4e2"/>
<rect x="698.50" y="1710.80" width="15.80" height="19.78" fill="#f7b799"/>
<g transform="translate(721.8,1725.4) scale(1.1,1)">
<text x="0.0" y="0.0" font-size="20" text-anchor="start" fill="#000" font-weight="bold" font-style="normal" stroke="#000" stroke-width="0.3">L-Acetylcarnitine</text>
</g>
<rect x="298.20" y="1732.18" width="15.80" height="19.78" fill="#f7b799"/>
<rect x="315.60" y="1732.18" width="15.80" height="19.78" fill="#f7b799"/>
<rect x="333.01" y="1732.18" width="15.80" height="19.78" fill="#f7b799"/>
<rect x="350.41" y="1732.18" width="15.80" height="19.78" fill="#e58268"/>
<rect x="367.82" y="1732.18" width="15.80" height="19.78" fill="#b51e2e"/>
<rect x="385.22" y="1732.18" width="15.80" height="19.78" fill="#cd4e44"/>
<rect x="402.62" y="1732.18" width="15.80" height="19.78" fill="#6aacd0"/>
<rect x="420.03" y="1732.18" width="15.80" height="19.78" fill="#d5e5ee"/>
<rect x="437.43" y="1732.18" width="15.80" height="19.78" fill="#6aacd0"/>
<rect x="454.84" y="1732.18" width="15.80" height="19.78" fill="#fadccc"/>
<rect x="472.24" y="1732.18" width="15.80" height="19.78" fill="#fadccc"/>
<rect x="489.65" y="1732.18" width="15.80" height="19.78" fill="#fadccc"/>
<rect x="507.05" y="1732.18" width="15.80" height="19.78" fill="#d5e5ee"/>
<rect x="524.45" y="1732.18" width="15.80" height="19.78" fill="#fadccc"/>
<rect x="541.86" y="1732.18" width="15.80" height="19.78" fill="#a7d0e4"/>
<rect x="559.26" y="1732.18" width="15.80" height="19.78" fill="#f7b799"/>
<rect x="576.67" y="1732.18" width="15.80" height="19.78" fill="#a7d0e4"/>
<rect x="594.07" y="1732.18" width="15.80" height="19.78" fill="#d5e5ee"/>
<rect x="611.48" y="1732.18" width="15.80" height="19.78" fill="#3884bb"/>
<rect x="628.88" y="1732.18" width="15.80" height="19.78" fill="#6aacd0"/>
<rect x="646.28" y="1732.18" width="15.80" height="19.78" fill="#d5e5ee"/>
<rect x="663.69" y="1732.18" width="15.80" height="19.78" fill="#a7d0e4"/>
<rect x="681.09" y="1732.18" width="15.80" height="19.78" fill="#6aacd0"/>
<rect x="698.50" y="1732.18" width="15.80" height="19.78" fill="#eae4e2"/>
<g transform="translate(721.8,1746.8) scale(1.1,1)">
<text x="0.0" y="0.0" font-size="20" text-anchor="start" fill="#000" font-weight="bold" font-style="normal" stroke="#000" stroke-width="0.3">Uric acid</text>
</g>
<rect x="298.20" y="1753.56" width="15.80" height="19.78" fill="#e58268"/>
<rect x="315.60" y="1753.56" width="15.80" height="19.78" fill="#f7b799"/>
<rect x="333.01" y="1753.56" width="15.80" height="19.78" fill="#fadccc"/>
<rect x="350.41" y="1753.56" width="15.80" height="19.78" fill="#e58268"/>
<rect x="367.82" y="1753.56" width="15.80" height="19.78" fill="#cd4e44"/>
<rect x="385.22" y="1753.56" width="15.80" height="19.78" fill="#e58268"/>
<rect x="402.62" y="1753.56" width="15.80" height="19.78" fill="#a7d0e4"/>
<rect x="420.03" y="1753.56" width="15.80" height="19.78" fill="#a7d0e4"/>
<rect x="437.43" y="1753.56" width="15.80" height="19.78" fill="#d5e5ee"/>
<rect x="454.84" y="1753.56" width="15.80" height="19.78" fill="#eae4e2"/>
<rect x="472.24" y="1753.56" width="15.80" height="19.78" fill="#fadccc"/>
<rect x="489.65" y="1753.56" width="15.80" height="19.78" fill="#f7b799"/>
<rect x="507.05" y="1753.56" width="15.80" height="19.78" fill="#6aacd0"/>
<rect x="524.45" y="1753.56" width="15.80" height="19.78" fill="#e58268"/>
<rect x="541.86" y="1753.56" width="15.80" height="19.78" fill="#eae4e2"/>
<rect x="559.26" y="1753.56" width="15.80" height="19.78" fill="#a7d0e4"/>
<rect x="576.67" y="1753.56" width="15.80" height="19.78" fill="#6aacd0"/>
<rect x="594.07" y="1753.56" width="15.80" height="19.78" fill="#fadccc"/>
<rect x="611.48" y="1753.56" width="15.80" height="19.78" fill="#3884bb"/>
<rect x="628.88" y="1753.56" width="15.80" height="19.78" fill="#6aacd0"/>
<rect x="646.28" y="1753.56" width="15.80" height="19.78" fill="#fadccc"/>
<rect x="663.69" y="1753.56" width="15.80" height="19.78" fill="#a7d0e4"/>
<rect x="681.09" y="1753.56" width="15.80" height="19.78" fill="#d5e5ee"/>
<rect x="698.50" y="1753.56" width="15.80" height="19.78" fill="#eae4e2"/>
<g transform="translate(721.8,1768.3) scale(1.1,1)">
<text x="0.0" y="0.0" font-size="20" text-anchor="start" fill="#000" font-weight="bold" font-style="normal" stroke="#000" stroke-width="0.3">L-Valine</text>
</g>
<rect x="298.20" y="1774.94" width="15.80" height="19.78" fill="#f7b799"/>
<rect x="315.60" y="1774.94" width="15.80" height="19.78" fill="#e58268"/>
<rect x="333.01" y="1774.94" width="15.80" height="19.78" fill="#f7b799"/>
<rect x="350.41" y="1774.94" width="15.80" height="19.78" fill="#f7b799"/>
<rect x="367.82" y="1774.94" width="15.80" height="19.78" fill="#e58268"/>
<rect x="385.22" y="1774.94" width="15.80" height="19.78" fill="#e58268"/>
<rect x="402.62" y="1774.94" width="15.80" height="19.78" fill="#a7d0e4"/>
<rect x="420.03" y="1774.94" width="15.80" height="19.78" fill="#d5e5ee"/>
<rect x="437.43" y="1774.94" width="15.80" height="19.78" fill="#fadccc"/>
<rect x="454.84" y="1774.94" width="15.80" height="19.78" fill="#fadccc"/>
<rect x="472.24" y="1774.94" width="15.80" height="19.78" fill="#fadccc"/>
<rect x="489.65" y="1774.94" width="15.80" height="19.78" fill="#f7b799"/>
<rect x="507.05" y="1774.94" width="15.80" height="19.78" fill="#6aacd0"/>
<rect x="524.45" y="1774.94" width="15.80" height="19.78" fill="#f7b799"/>
<rect x="541.86" y="1774.94" width="15.80" height="19.78" fill="#d5e5ee"/>
<rect x="559.26" y="1774.94" width="15.80" height="19.78" fill="#6aacd0"/>
<rect x="576.67" y="1774.94" width="15.80" height="19.78" fill="#6aacd0"/>
<rect x="594.07" y="1774.94" width="15.80" height="19.78" fill="#d5e5ee"/>
<rect x="611.48" y="1774.94" width="15.80" height="19.78" fill="#1c5da0"/>
<rect x="628.88" y="1774.94" width="15.80" height="19.78" fill="#6aacd0"/>
<rect x="646.28" y="1774.94" width="15.80" height="19.78" fill="#f7b799"/>
<rect x="663.69" y="1774.94" width="15.80" height="19.78" fill="#a7d0e4"/>
<rect x="681.09" y="1774.94" width="15.80" height="19.78" fill="#a7d0e4"/>
<rect x="698.50" y="1774.94" width="15.80" height="19.78" fill="#d5e5ee"/>
<g transform="translate(721.8,1789.7) scale(1.1,1)">
<text x="0.0" y="0.0" font-size="20" text-anchor="start" fill="#000" font-weight="bold" font-style="normal" stroke="#000" stroke-width="0.3">L-Leucine</text>
</g>
<rect x="298.20" y="1796.32" width="15.80" height="19.78" fill="#f7b799"/>
<rect x="315.60" y="1796.32" width="15.80" height="19.78" fill="#f7b799"/>
<rect x="333.01" y="1796.32" width="15.80" height="19.78" fill="#f7b799"/>
<rect x="350.41" y="1796.32" width="15.80" height="19.78" fill="#fadccc"/>
<rect x="367.82" y="1796.32" width="15.80" height="19.78" fill="#e58268"/>
<rect x="385.22" y="1796.32" width="15.80" height="19.78" fill="#cd4e44"/>
<rect x="402.62" y="1796.32" width="15.80" height="19.78" fill="#a7d0e4"/>
<rect x="420.03" y="1796.32" width="15.80" height="19.78" fill="#a7d0e4"/>
<rect x="437.43" y="1796.32" width="15.80" height="19.78" fill="#d5e5ee"/>
<rect x="454.84" y="1796.32" width="15.80" height="19.78" fill="#f7b799"/>
<rect x="472.24" y="1796.32" width="15.80" height="19.78" fill="#f7b799"/>
<rect x="489.65" y="1796.32" width="15.80" height="19.78" fill="#f7b799"/>
<rect x="507.05" y="1796.32" width="15.80" height="19.78" fill="#6aacd0"/>
<rect x="524.45" y="1796.32" width="15.80" height="19.78" fill="#f7b799"/>
<rect x="541.86" y="1796.32" width="15.80" height="19.78" fill="#d5e5ee"/>
<rect x="559.26" y="1796.32" width="15.80" height="19.78" fill="#6aacd0"/>
<rect x="576.67" y="1796.32" width="15.80" height="19.78" fill="#3884bb"/>
<rect x="594.07" y="1796.32" width="15.80" height="19.78" fill="#eae4e2"/>
<rect x="611.48" y="1796.32" width="15.80" height="19.78" fill="#3884bb"/>
<rect x="628.88" y="1796.32" width="15.80" height="19.78" fill="#6aacd0"/>
<rect x="646.28" y="1796.32" width="15.80" height="19.78" fill="#eae4e2"/>
<rect x="663.69" y="1796.32" width="15.80" height="19.78" fill="#d5e5ee"/>
<rect x="681.09" y="1796.32" width="15.80" height="19.78" fill="#a7d0e4"/>
<rect x="698.50" y="1796.32" width="15.80" height="19.78" fill="#eae4e2"/>
<g transform="translate(721.8,1811.1) scale(1.1,1)">
<text x="0.0" y="0.0" font-size="20" text-anchor="start" fill="#000" font-weight="bold" font-style="normal" stroke="#000" stroke-width="0.3">L-Isoleucine</text>
</g>
<rect x="298.20" y="1817.70" width="15.80" height="19.78" fill="#b51e2e"/>
<rect x="315.60" y="1817.70" width="15.80" height="19.78" fill="#f7b799"/>
<rect x="333.01" y="1817.70" width="15.80" height="19.78" fill="#cd4e44"/>
<rect x="350.41" y="1817.70" width="15.80" height="19.78" fill="#f7b799"/>
<rect x="367.82" y="1817.70" width="15.80" height="19.78" fill="#f7b799"/>
<rect x="385.22" y="1817.70" width="15.80" height="19.78" fill="#e58268"/>
<rect x="402.62" y="1817.70" width="15.80" height="19.78" fill="#fadccc"/>
<rect x="420.03" y="1817.70" width="15.80" height="19.78" fill="#eae4e2"/>
<rect x="437.43" y="1817.70" width="15.80" height="19.78" fill="#d5e5ee"/>
<rect x="454.84" y="1817.70" width="15.80" height="19.78" fill="#d5e5ee"/>
<rect x="472.24" y="1817.70" width="15.80" height="19.78" fill="#a7d0e4"/>
<rect x="489.65" y="1817.70" width="15.80" height="19.78" fill="#d5e5ee"/>
<rect x="507.05" y="1817.70" width="15.80" height="19.78" fill="#eae4e2"/>
<rect x="524.45" y="1817.70" width="15.80" height="19.78" fill="#fadccc"/>
<rect x="541.86" y="1817.70" width="15.80" height="19.78" fill="#6aacd0"/>
<rect x="559.26" y="1817.70" width="15.80" height="19.78" fill="#6aacd0"/>
<rect x="576.67" y="1817.70" width="15.80" height="19.78" fill="#6aacd0"/>
<rect x="594.07" y="1817.70" width="15.80" height="19.78" fill="#3884bb"/>
<rect x="611.48" y="1817.70" width="15.80" height="19.78" fill="#6aacd0"/>
<rect x="628.88" y="1817.70" width="15.80" height="19.78" fill="#a7d0e4"/>
<rect x="646.28" y="1817.70" width="15.80" height="19.78" fill="#f7b799"/>
<rect x="663.69" y="1817.70" width="15.80" height="19.78" fill="#d5e5ee"/>
<rect x="681.09" y="1817.70" width="15.80" height="19.78" fill="#a7d0e4"/>
<rect x="698.50" y="1817.70" width="15.80" height="19.78" fill="#eae4e2"/>
<g transform="translate(721.8,1832.6) scale(1.1,1)">
<text x="0.0" y="0.0" font-size="20" text-anchor="start" fill="#000" font-weight="bold" font-style="normal" stroke="#000" stroke-width="0.3">L-Phenylalanine</text>
</g>
<rect x="298.20" y="1839.09" width="15.80" height="19.78" fill="#e58268"/>
<rect x="315.60" y="1839.09" width="15.80" height="19.78" fill="#f7b799"/>
<rect x="333.01" y="1839.09" width="15.80" height="19.78" fill="#f7b799"/>
<rect x="350.41" y="1839.09" width="15.80" height="19.78" fill="#f7b799"/>
<rect x="367.82" y="1839.09" width="15.80" height="19.78" fill="#e58268"/>
<rect x="385.22" y="1839.09" width="15.80" height="19.78" fill="#fadccc"/>
<rect x="402.62" y="1839.09" width="15.80" height="19.78" fill="#a7d0e4"/>
<rect x="420.03" y="1839.09" width="15.80" height="19.78" fill="#eae4e2"/>
<rect x="437.43" y="1839.09" width="15.80" height="19.78" fill="#fadccc"/>
<rect x="454.84" y="1839.09" width="15.80" height="19.78" fill="#d5e5ee"/>
<rect x="472.24" y="1839.09" width="15.80" height="19.78" fill="#fadccc"/>
<rect x="489.65" y="1839.09" width="15.80" height="19.78" fill="#d5e5ee"/>
<rect x="507.05" y="1839.09" width="15.80" height="19.78" fill="#6aacd0"/>
<rect x="524.45" y="1839.09" width="15.80" height="19.78" fill="#cd4e44"/>
<rect x="541.86" y="1839.09" width="15.80" height="19.78" fill="#a7d0e4"/>
<rect x="559.26" y="1839.09" width="15.80" height="19.78" fill="#a7d0e4"/>
<rect x="576.67" y="1839.09" width="15.80" height="19.78" fill="#3884bb"/>
<rect x="594.07" y="1839.09" width="15.80" height="19.78" fill="#3884bb"/>
<rect x="611.48" y="1839.09" width="15.80" height="19.78" fill="#1c5da0"/>
<rect x="628.88" y="1839.09" width="15.80" height="19.78" fill="#a7d0e4"/>
<rect x="646.28" y="1839.09" width="15.80" height="19.78" fill="#e58268"/>
<rect x="663.69" y="1839.09" width="15.80" height="19.78" fill="#eae4e2"/>
<rect x="681.09" y="1839.09" width="15.80" height="19.78" fill="#d5e5ee"/>
<rect x="698.50" y="1839.09" width="15.80" height="19.78" fill="#fadccc"/>
<g transform="translate(721.8,1854.0) scale(1.1,1)">
<text x="0.0" y="0.0" font-size="20" text-anchor="start" fill="#000" font-weight="bold" font-style="normal" stroke="#000" stroke-width="0.3">L-Tryptophan</text>
</g>
<rect x="298.20" y="1860.47" width="15.80" height="19.78" fill="#cd4e44"/>
<rect x="315.60" y="1860.47" width="15.80" height="19.78" fill="#e58268"/>
<rect x="333.01" y="1860.47" width="15.80" height="19.78" fill="#e58268"/>
<rect x="350.41" y="1860.47" width="15.80" height="19.78" fill="#f7b799"/>
<rect x="367.82" y="1860.47" width="15.80" height="19.78" fill="#f7b799"/>
<rect x="385.22" y="1860.47" width="15.80" height="19.78" fill="#fadccc"/>
<rect x="402.62" y="1860.47" width="15.80" height="19.78" fill="#a7d0e4"/>
<rect x="420.03" y="1860.47" width="15.80" height="19.78" fill="#a7d0e4"/>
<rect x="437.43" y="1860.47" width="15.80" height="19.78" fill="#eae4e2"/>
<rect x="454.84" y="1860.47" width="15.80" height="19.78" fill="#eae4e2"/>
<rect x="472.24" y="1860.47" width="15.80" height="19.78" fill="#d5e5ee"/>
<rect x="489.65" y="1860.47" width="15.80" height="19.78" fill="#a7d0e4"/>
<rect x="507.05" y="1860.47" width="15.80" height="19.78" fill="#6aacd0"/>
<rect x="524.45" y="1860.47" width="15.80" height="19.78" fill="#fadccc"/>
<rect x="541.86" y="1860.47" width="15.80" height="19.78" fill="#d5e5ee"/>
<rect x="559.26" y="1860.47" width="15.80" height="19.78" fill="#6aacd0"/>
<rect x="576.67" y="1860.47" width="15.80" height="19.78" fill="#6aacd0"/>
<rect x="594.07" y="1860.47" width="15.80" height="19.78" fill="#fadccc"/>
<rect x="611.48" y="1860.47" width="15.80" height="19.78" fill="#fadccc"/>
<rect x="628.88" y="1860.47" width="15.80" height="19.78" fill="#3884bb"/>
<rect x="646.28" y="1860.47" width="15.80" height="19.78" fill="#f7b799"/>
<rect x="663.69" y="1860.47" width="15.80" height="19.78" fill="#d5e5ee"/>
<rect x="681.09" y="1860.47" width="15.80" height="19.78" fill="#6aacd0"/>
<rect x="698.50" y="1860.47" width="15.80" height="19.78" fill="#cd4e44"/>
<g transform="translate(721.8,1875.5) scale(1.1,1)">
<text x="0.0" y="0.0" font-size="20" text-anchor="start" fill="#000" font-weight="bold" font-style="normal" stroke="#000" stroke-width="0.3">NAD</text>
</g>
<rect x="298.20" y="1881.85" width="15.80" height="19.78" fill="#cd4e44"/>
<rect x="315.60" y="1881.85" width="15.80" height="19.78" fill="#e58268"/>
<rect x="333.01" y="1881.85" width="15.80" height="19.78" fill="#e58268"/>
<rect x="350.41" y="1881.85" width="15.80" height="19.78" fill="#cd4e44"/>
<rect x="367.82" y="1881.85" width="15.80" height="19.78" fill="#e58268"/>
<rect x="385.22" y="1881.85" width="15.80" height="19.78" fill="#cd4e44"/>
<rect x="402.62" y="1881.85" width="15.80" height="19.78" fill="#eae4e2"/>
<rect x="420.03" y="1881.85" width="15.80" height="19.78" fill="#a7d0e4"/>
<rect x="437.43" y="1881.85" width="15.80" height="19.78" fill="#d5e5ee"/>
<rect x="454.84" y="1881.85" width="15.80" height="19.78" fill="#a7d0e4"/>
<rect x="472.24" y="1881.85" width="15.80" height="19.78" fill="#a7d0e4"/>
<rect x="489.65" y="1881.85" width="15.80" height="19.78" fill="#fadccc"/>
<rect x="507.05" y="1881.85" width="15.80" height="19.78" fill="#a7d0e4"/>
<rect x="524.45" y="1881.85" width="15.80" height="19.78" fill="#a7d0e4"/>
<rect x="541.86" y="1881.85" width="15.80" height="19.78" fill="#a7d0e4"/>
<rect x="559.26" y="1881.85" width="15.80" height="19.78" fill="#6aacd0"/>
<rect x="576.67" y="1881.85" width="15.80" height="19.78" fill="#a7d0e4"/>
<rect x="594.07" y="1881.85" width="15.80" height="19.78" fill="#fadccc"/>
<rect x="611.48" y="1881.85" width="15.80" height="19.78" fill="#eae4e2"/>
<rect x="628.88" y="1881.85" width="15.80" height="19.78" fill="#a7d0e4"/>
<rect x="646.28" y="1881.85" width="15.80" height="19.78" fill="#d5e5ee"/>
<rect x="663.69" y="1881.85" width="15.80" height="19.78" fill="#a7d0e4"/>
<rect x="681.09" y="1881.85" width="15.80" height="19.78" fill="#fadccc"/>
<rect x="698.50" y="1881.85" width="15.80" height="19.78" fill="#eae4e2"/>
<g transform="translate(721.8,1896.9) scale(1.1,1)">
<text x="0.0" y="0.0" font-size="20" text-anchor="start" fill="#000" font-weight="bold" font-style="normal" stroke="#000" stroke-width="0.3">Uridine diphosphate glucose</text>
</g>
<rect x="298.20" y="1903.23" width="15.80" height="19.78" fill="#7a0622"/>
<rect x="315.60" y="1903.23" width="15.80" height="19.78" fill="#e58268"/>
<rect x="333.01" y="1903.23" width="15.80" height="19.78" fill="#fadccc"/>
<rect x="350.41" y="1903.23" width="15.80" height="19.78" fill="#e58268"/>
<rect x="367.82" y="1903.23" width="15.80" height="19.78" fill="#eae4e2"/>
<rect x="385.22" y="1903.23" width="15.80" height="19.78" fill="#e58268"/>
<rect x="402.62" y="1903.23" width="15.80" height="19.78" fill="#a7d0e4"/>
<rect x="420.03" y="1903.23" width="15.80" height="19.78" fill="#6aacd0"/>
<rect x="437.43" y="1903.23" width="15.80" height="19.78" fill="#d5e5ee"/>
<rect x="454.84" y="1903.23" width="15.80" height="19.78" fill="#d5e5ee"/>
<rect x="472.24" y="1903.23" width="15.80" height="19.78" fill="#a7d0e4"/>
<rect x="489.65" y="1903.23" width="15.80" height="19.78" fill="#eae4e2"/>
<rect x="507.05" y="1903.23" width="15.80" height="19.78" fill="#fadccc"/>
<rect x="524.45" y="1903.23" width="15.80" height="19.78" fill="#eae4e2"/>
<rect x="541.86" y="1903.23" width="15.80" height="19.78" fill="#a7d0e4"/>
<rect x="559.26" y="1903.23" width="15.80" height="19.78" fill="#6aacd0"/>
<rect x="576.67" y="1903.23" width="15.80" height="19.78" fill="#a7d0e4"/>
<rect x="594.07" y="1903.23" width="15.80" height="19.78" fill="#fadccc"/>
<rect x="611.48" y="1903.23" width="15.80" height="19.78" fill="#eae4e2"/>
<rect x="628.88" y="1903.23" width="15.80" height="19.78" fill="#3884bb"/>
<rect x="646.28" y="1903.23" width="15.80" height="19.78" fill="#eae4e2"/>
<rect x="663.69" y="1903.23" width="15.80" height="19.78" fill="#eae4e2"/>
<rect x="681.09" y="1903.23" width="15.80" height="19.78" fill="#eae4e2"/>
<rect x="698.50" y="1903.23" width="15.80" height="19.78" fill="#fadccc"/>
<g transform="translate(721.8,1918.4) scale(1.1,1)">
<text x="0.0" y="0.0" font-size="20" text-anchor="start" fill="#000" font-weight="bold" font-style="normal" stroke="#000" stroke-width="0.3">Uridine diphosphate-N-acetylglucosamine</text>
</g>
<rect x="298.20" y="1924.61" width="15.80" height="19.78" fill="#b51e2e"/>
<rect x="315.60" y="1924.61" width="15.80" height="19.78" fill="#d5e5ee"/>
<rect x="333.01" y="1924.61" width="15.80" height="19.78" fill="#f7b799"/>
<rect x="350.41" y="1924.61" width="15.80" height="19.78" fill="#e58268"/>
<rect x="367.82" y="1924.61" width="15.80" height="19.78" fill="#f7b799"/>
<rect x="385.22" y="1924.61" width="15.80" height="19.78" fill="#cd4e44"/>
<rect x="402.62" y="1924.61" width="15.80" height="19.78" fill="#d5e5ee"/>
<rect x="420.03" y="1924.61" width="15.80" height="19.78" fill="#f7b799"/>
<rect x="437.43" y="1924.61" width="15.80" height="19.78" fill="#f7b799"/>
<rect x="454.84" y="1924.61" width="15.80" height="19.78" fill="#d5e5ee"/>
<rect x="472.24" y="1924.61" width="15.80" height="19.78" fill="#eae4e2"/>
<rect x="489.65" y="1924.61" width="15.80" height="19.78" fill="#d5e5ee"/>
<rect x="507.05" y="1924.61" width="15.80" height="19.78" fill="#d5e5ee"/>
<rect x="524.45" y="1924.61" width="15.80" height="19.78" fill="#a7d0e4"/>
<rect x="541.86" y="1924.61" width="15.80" height="19.78" fill="#3884bb"/>
<rect x="559.26" y="1924.61" width="15.80" height="19.78" fill="#6aacd0"/>
<rect x="576.67" y="1924.61" width="15.80" height="19.78" fill="#6aacd0"/>
<rect x="594.07" y="1924.61" width="15.80" height="19.78" fill="#a7d0e4"/>
<rect x="611.48" y="1924.61" width="15.80" height="19.78" fill="#d5e5ee"/>
<rect x="628.88" y="1924.61" width="15.80" height="19.78" fill="#d5e5ee"/>
<rect x="646.28" y="1924.61" width="15.80" height="19.78" fill="#a7d0e4"/>
<rect x="663.69" y="1924.61" width="15.80" height="19.78" fill="#d5e5ee"/>
<rect x="681.09" y="1924.61" width="15.80" height="19.78" fill="#a7d0e4"/>
<rect x="698.50" y="1924.61" width="15.80" height="19.78" fill="#e58268"/>
<g transform="translate(721.8,1939.8) scale(1.1,1)">
<text x="0.0" y="0.0" font-size="20" text-anchor="start" fill="#000" font-weight="bold" font-style="normal" stroke="#000" stroke-width="0.3">Glucosamine 6-phosphate</text>
</g>
<rect x="298.20" y="1945.99" width="15.80" height="19.78" fill="#f7b799"/>
<rect x="315.60" y="1945.99" width="15.80" height="19.78" fill="#eae4e2"/>
<rect x="333.01" y="1945.99" width="15.80" height="19.78" fill="#fadccc"/>
<rect x="350.41" y="1945.99" width="15.80" height="19.78" fill="#e58268"/>
<rect x="367.82" y="1945.99" width="15.80" height="19.78" fill="#e58268"/>
<rect x="385.22" y="1945.99" width="15.80" height="19.78" fill="#cd4e44"/>
<rect x="402.62" y="1945.99" width="15.80" height="19.78" fill="#a7d0e4"/>
<rect x="420.03" y="1945.99" width="15.80" height="19.78" fill="#fadccc"/>
<rect x="437.43" y="1945.99" width="15.80" height="19.78" fill="#a7d0e4"/>
<rect x="454.84" y="1945.99" width="15.80" height="19.78" fill="#d5e5ee"/>
<rect x="472.24" y="1945.99" width="15.80" height="19.78" fill="#d5e5ee"/>
<rect x="489.65" y="1945.99" width="15.80" height="19.78" fill="#e58268"/>
<rect x="507.05" y="1945.99" width="15.80" height="19.78" fill="#a7d0e4"/>
<rect x="524.45" y="1945.99" width="15.80" height="19.78" fill="#1c5da0"/>
<rect x="541.86" y="1945.99" width="15.80" height="19.78" fill="#6aacd0"/>
<rect x="559.26" y="1945.99" width="15.80" height="19.78" fill="#a7d0e4"/>
<rect x="576.67" y="1945.99" width="15.80" height="19.78" fill="#3884bb"/>
<rect x="594.07" y="1945.99" width="15.80" height="19.78" fill="#eae4e2"/>
<rect x="611.48" y="1945.99" width="15.80" height="19.78" fill="#a7d0e4"/>
<rect x="628.88" y="1945.99" width="15.80" height="19.78" fill="#f7b799"/>
<rect x="646.28" y="1945.99" width="15.80" height="19.78" fill="#fadccc"/>
<rect x="663.69" y="1945.99" width="15.80" height="19.78" fill="#d5e5ee"/>
<rect x="681.09" y="1945.99" width="15.80" height="19.78" fill="#fadccc"/>
<rect x="698.50" y="1945.99" width="15.80" height="19.78" fill="#e58268"/>
<g transform="translate(721.8,1961.3) scale(1.1,1)">
<text x="0.0" y="0.0" font-size="20" text-anchor="start" fill="#000" font-weight="bold" font-style="normal" stroke="#000" stroke-width="0.3">Adenosine diphosphate ribose.1</text>
</g>
<rect x="298.20" y="1967.38" width="15.80" height="19.78" fill="#d5e5ee"/>
<rect x="315.60" y="1967.38" width="15.80" height="19.78" fill="#a7d0e4"/>
<rect x="333.01" y="1967.38" width="15.80" height="19.78" fill="#a7d0e4"/>
<rect x="350.41" y="1967.38" width="15.80" height="19.78" fill="#a7d0e4"/>
<rect x="367.82" y="1967.38" width="15.80" height="19.78" fill="#a7d0e4"/>
<rect x="385.22" y="1967.38" width="15.80" height="19.78" fill="#d5e5ee"/>
<rect x="402.62" y="1967.38" width="15.80" height="19.78" fill="#d5e5ee"/>
<rect x="420.03" y="1967.38" width="15.80" height="19.78" fill="#fadccc"/>
<rect x="437.43" y="1967.38" width="15.80" height="19.78" fill="#fadccc"/>
<rect x="454.84" y="1967.38" width="15.80" height="19.78" fill="#fadccc"/>
<rect x="472.24" y="1967.38" width="15.80" height="19.78" fill="#f7b799"/>
<rect x="489.65" y="1967.38" width="15.80" height="19.78" fill="#cd4e44"/>
<rect x="507.05" y="1967.38" width="15.80" height="19.78" fill="#fadccc"/>
<rect x="524.45" y="1967.38" width="15.80" height="19.78" fill="#6aacd0"/>
<rect x="541.86" y="1967.38" width="15.80" height="19.78" fill="#6aacd0"/>
<rect x="559.26" y="1967.38" width="15.80" height="19.78" fill="#d5e5ee"/>
<rect x="576.67" y="1967.38" width="15.80" height="19.78" fill="#d5e5ee"/>
<rect x="594.07" y="1967.38" width="15.80" height="19.78" fill="#b51e2e"/>
<rect x="611.48" y="1967.38" width="15.80" height="19.78" fill="#eae4e2"/>
<rect x="628.88" y="1967.38" width="15.80" height="19.78" fill="#a7d0e4"/>
<rect x="646.28" y="1967.38" width="15.80" height="19.78" fill="#a7d0e4"/>
<rect x="663.69" y="1967.38" width="15.80" height="19.78" fill="#eae4e2"/>
<rect x="681.09" y="1967.38" width="15.80" height="19.78" fill="#f7b799"/>
<rect x="698.50" y="1967.38" width="15.80" height="19.78" fill="#cd4e44"/>
<g transform="translate(721.8,1982.7) scale(1.1,1)">
<text x="0.0" y="0.0" font-size="20" text-anchor="start" fill="#000" font-weight="bold" font-style="normal" stroke="#000" stroke-width="0.3">Uridine 5&#39;-monophosphate</text>
</g>
<rect x="298.20" y="1988.76" width="15.80" height="19.78" fill="#d5e5ee"/>
<rect x="315.60" y="1988.76" width="15.80" height="19.78" fill="#6aacd0"/>
<rect x="333.01" y="1988.76" width="15.80" height="19.78" fill="#a7d0e4"/>
<rect x="350.41" y="1988.76" width="15.80" height="19.78" fill="#a7d0e4"/>
<rect x="367.82" y="1988.76" width="15.80" height="19.78" fill="#d5e5ee"/>
<rect x="385.22" y="1988.76" width="15.80" height="19.78" fill="#6aacd0"/>
<rect x="402.62" y="1988.76" width="15.80" height="19.78" fill="#a7d0e4"/>
<rect x="420.03" y="1988.76" width="15.80" height="19.78" fill="#d5e5ee"/>
<rect x="437.43" y="1988.76" width="15.80" height="19.78" fill="#f7b799"/>
<rect x="454.84" y="1988.76" width="15.80" height="19.78" fill="#cd4e44"/>
<rect x="472.24" y="1988.76" width="15.80" height="19.78" fill="#cd4e44"/>
<rect x="489.65" y="1988.76" width="15.80" height="19.78" fill="#f7b799"/>
<rect x="507.05" y="1988.76" width="15.80" height="19.78" fill="#fadccc"/>
<rect x="524.45" y="1988.76" width="15.80" height="19.78" fill="#a7d0e4"/>
<rect x="541.86" y="1988.76" width="15.80" height="19.78" fill="#a7d0e4"/>
<rect x="559.26" y="1988.76" width="15.80" height="19.78" fill="#fadccc"/>
<rect x="576.67" y="1988.76" width="15.80" height="19.78" fill="#d5e5ee"/>
<rect x="594.07" y="1988.76" width="15.80" height="19.78" fill="#7a0622"/>
<rect x="611.48" y="1988.76" width="15.80" height="19.78" fill="#fadccc"/>
<rect x="628.88" y="1988.76" width="15.80" height="19.78" fill="#6aacd0"/>
<rect x="646.28" y="1988.76" width="15.80" height="19.78" fill="#eae4e2"/>
<rect x="663.69" y="1988.76" width="15.80" height="19.78" fill="#d5e5ee"/>
<rect x="681.09" y="1988.76" width="15.80" height="19.78" fill="#eae4e2"/>
<rect x="698.50" y="1988.76" width="15.80" height="19.78" fill="#eae4e2"/>
<g transform="translate(721.8,2004.1) scale(1.1,1)">
<text x="0.0" y="0.0" font-size="20" text-anchor="start" fill="#000" font-weight="bold" font-style="normal" stroke="#000" stroke-width="0.3">Adenosine diphosphate ribose</text>
</g>
<rect x="298.20" y="2010.14" width="15.80" height="19.78" fill="#a7d0e4"/>
<rect x="315.60" y="2010.14" width="15.80" height="19.78" fill="#6aacd0"/>
<rect x="333.01" y="2010.14" width="15.80" height="19.78" fill="#a7d0e4"/>
<rect x="350.41" y="2010.14" width="15.80" height="19.78" fill="#eae4e2"/>
<rect x="367.82" y="2010.14" width="15.80" height="19.78" fill="#eae4e2"/>
<rect x="385.22" y="2010.14" width="15.80" height="19.78" fill="#a7d0e4"/>
<rect x="402.62" y="2010.14" width="15.80" height="19.78" fill="#a7d0e4"/>
<rect x="420.03" y="2010.14" width="15.80" height="19.78" fill="#eae4e2"/>
<rect x="437.43" y="2010.14" width="15.80" height="19.78" fill="#fadccc"/>
<rect x="454.84" y="2010.14" width="15.80" height="19.78" fill="#cd4e44"/>
<rect x="472.24" y="2010.14" width="15.80" height="19.78" fill="#b51e2e"/>
<rect x="489.65" y="2010.14" width="15.80" height="19.78" fill="#e58268"/>
<rect x="507.05" y="2010.14" width="15.80" height="19.78" fill="#f7b799"/>
<rect x="524.45" y="2010.14" width="15.80" height="19.78" fill="#6aacd0"/>
<rect x="541.86" y="2010.14" width="15.80" height="19.78" fill="#a7d0e4"/>
<rect x="559.26" y="2010.14" width="15.80" height="19.78" fill="#eae4e2"/>
<rect x="576.67" y="2010.14" width="15.80" height="19.78" fill="#d5e5ee"/>
<rect x="594.07" y="2010.14" width="15.80" height="19.78" fill="#cd4e44"/>
<rect x="611.48" y="2010.14" width="15.80" height="19.78" fill="#a7d0e4"/>
<rect x="628.88" y="2010.14" width="15.80" height="19.78" fill="#6aacd0"/>
<rect x="646.28" y="2010.14" width="15.80" height="19.78" fill="#6aacd0"/>
<rect x="663.69" y="2010.14" width="15.80" height="19.78" fill="#fadccc"/>
<rect x="681.09" y="2010.14" width="15.80" height="19.78" fill="#eae4e2"/>
<rect x="698.50" y="2010.14" width="15.80" height="19.78" fill="#fadccc"/>
<g transform="translate(721.8,2025.6) scale(1.1,1)">
<text x="0.0" y="0.0" font-size="20" text-anchor="start" fill="#000" font-weight="bold" font-style="normal" stroke="#000" stroke-width="0.3">Galactarate</text>
</g>
<rect x="298.20" y="2031.52" width="15.80" height="19.78" fill="#a7d0e4"/>
<rect x="315.60" y="2031.52" width="15.80" height="19.78" fill="#6aacd0"/>
<rect x="333.01" y="2031.52" width="15.80" height="19.78" fill="#a7d0e4"/>
<rect x="350.41" y="2031.52" width="15.80" height="19.78" fill="#a7d0e4"/>
<rect x="367.82" y="2031.52" width="15.80" height="19.78" fill="#a7d0e4"/>
<rect x="385.22" y="2031.52" width="15.80" height="19.78" fill="#d5e5ee"/>
<rect x="402.62" y="2031.52" width="15.80" height="19.78" fill="#a7d0e4"/>
<rect x="420.03" y="2031.52" width="15.80" height="19.78" fill="#a7d0e4"/>
<rect x="437.43" y="2031.52" width="15.80" height="19.78" fill="#eae4e2"/>
<rect x="454.84" y="2031.52" width="15.80" height="19.78" fill="#e58268"/>
<rect x="472.24" y="2031.52" width="15.80" height="19.78" fill="#b51e2e"/>
<rect x="489.65" y="2031.52" width="15.80" height="19.78" fill="#cd4e44"/>
<rect x="507.05" y="2031.52" width="15.80" height="19.78" fill="#fadccc"/>
<rect x="524.45" y="2031.52" width="15.80" height="19.78" fill="#6aacd0"/>
<rect x="541.86" y="2031.52" width="15.80" height="19.78" fill="#a7d0e4"/>
<rect x="559.26" y="2031.52" width="15.80" height="19.78" fill="#d5e5ee"/>
<rect x="576.67" y="2031.52" width="15.80" height="19.78" fill="#a7d0e4"/>
<rect x="594.07" y="2031.52" width="15.80" height="19.78" fill="#b51e2e"/>
<rect x="611.48" y="2031.52" width="15.80" height="19.78" fill="#eae4e2"/>
<rect x="628.88" y="2031.52" width="15.80" height="19.78" fill="#6aacd0"/>
<rect x="646.28" y="2031.52" width="15.80" height="19.78" fill="#a7d0e4"/>
<rect x="663.69" y="2031.52" width="15.80" height="19.78" fill="#eae4e2"/>
<rect x="681.09" y="2031.52" width="15.80" height="19.78" fill="#fadccc"/>
<rect x="698.50" y="2031.52" width="15.80" height="19.78" fill="#e58268"/>
<g transform="translate(721.8,2047.0) scale(1.1,1)">
<text x="0.0" y="0.0" font-size="20" text-anchor="start" fill="#000" font-weight="bold" font-style="normal" stroke="#000" stroke-width="0.3">Threonic acid</text>
</g>
<rect x="298.20" y="2052.90" width="15.80" height="19.78" fill="#fadccc"/>
<rect x="315.60" y="2052.90" width="15.80" height="19.78" fill="#eae4e2"/>
<rect x="333.01" y="2052.90" width="15.80" height="19.78" fill="#d5e5ee"/>
<rect x="350.41" y="2052.90" width="15.80" height="19.78" fill="#a7d0e4"/>
<rect x="367.82" y="2052.90" width="15.80" height="19.78" fill="#a7d0e4"/>
<rect x="385.22" y="2052.90" width="15.80" height="19.78" fill="#3884bb"/>
<rect x="402.62" y="2052.90" width="15.80" height="19.78" fill="#fadccc"/>
<rect x="420.03" y="2052.90" width="15.80" height="19.78" fill="#f7b799"/>
<rect x="437.43" y="2052.90" width="15.80" height="19.78" fill="#f7b799"/>
<rect x="454.84" y="2052.90" width="15.80" height="19.78" fill="#b51e2e"/>
<rect x="472.24" y="2052.90" width="15.80" height="19.78" fill="#b51e2e"/>
<rect x="489.65" y="2052.90" width="15.80" height="19.78" fill="#fadccc"/>
<rect x="507.05" y="2052.90" width="15.80" height="19.78" fill="#f7b799"/>
<rect x="524.45" y="2052.90" width="15.80" height="19.78" fill="#a7d0e4"/>
<rect x="541.86" y="2052.90" width="15.80" height="19.78" fill="#a7d0e4"/>
<rect x="559.26" y="2052.90" width="15.80" height="19.78" fill="#a7d0e4"/>
<rect x="576.67" y="2052.90" width="15.80" height="19.78" fill="#d5e5ee"/>
<rect x="594.07" y="2052.90" width="15.80" height="19.78" fill="#f7b799"/>
<rect x="611.48" y="2052.90" width="15.80" height="19.78" fill="#f7b799"/>
<rect x="628.88" y="2052.90" width="15.80" height="19.78" fill="#3884bb"/>
<rect x="646.28" y="2052.90" width="15.80" height="19.78" fill="#a7d0e4"/>
<rect x="663.69" y="2052.90" width="15.80" height="19.78" fill="#fadccc"/>
<rect x="681.09" y="2052.90" width="15.80" height="19.78" fill="#d5e5ee"/>
<rect x="698.50" y="2052.90" width="15.80" height="19.78" fill="#a7d0e4"/>
<g transform="translate(721.8,2068.5) scale(1.1,1)">
<text x="0.0" y="0.0" font-size="20" text-anchor="start" fill="#000" font-weight="bold" font-style="normal" stroke="#000" stroke-width="0.3">Isonicotinamide</text>
</g>
<rect x="298.20" y="2074.28" width="15.80" height="19.78" fill="#a7d0e4"/>
<rect x="315.60" y="2074.28" width="15.80" height="19.78" fill="#3884bb"/>
<rect x="333.01" y="2074.28" width="15.80" height="19.78" fill="#6aacd0"/>
<rect x="350.41" y="2074.28" width="15.80" height="19.78" fill="#a7d0e4"/>
<rect x="367.82" y="2074.28" width="15.80" height="19.78" fill="#6aacd0"/>
<rect x="385.22" y="2074.28" width="15.80" height="19.78" fill="#a7d0e4"/>
<rect x="402.62" y="2074.28" width="15.80" height="19.78" fill="#d5e5ee"/>
<rect x="420.03" y="2074.28" width="15.80" height="19.78" fill="#eae4e2"/>
<rect x="437.43" y="2074.28" width="15.80" height="19.78" fill="#fadccc"/>
<rect x="454.84" y="2074.28" width="15.80" height="19.78" fill="#cd4e44"/>
<rect x="472.24" y="2074.28" width="15.80" height="19.78" fill="#cd4e44"/>
<rect x="489.65" y="2074.28" width="15.80" height="19.78" fill="#fadccc"/>
<rect x="507.05" y="2074.28" width="15.80" height="19.78" fill="#e58268"/>
<rect x="524.45" y="2074.28" width="15.80" height="19.78" fill="#3884bb"/>
<rect x="541.86" y="2074.28" width="15.80" height="19.78" fill="#eae4e2"/>
<rect x="559.26" y="2074.28" width="15.80" height="19.78" fill="#d5e5ee"/>
<rect x="576.67" y="2074.28" width="15.80" height="19.78" fill="#a7d0e4"/>
<rect x="594.07" y="2074.28" width="15.80" height="19.78" fill="#f7b799"/>
<rect x="611.48" y="2074.28" width="15.80" height="19.78" fill="#e58268"/>
<rect x="628.88" y="2074.28" width="15.80" height="19.78" fill="#a7d0e4"/>
<rect x="646.28" y="2074.28" width="15.80" height="19.78" fill="#eae4e2"/>
<rect x="663.69" y="2074.28" width="15.80" height="19.78" fill="#e58268"/>
<rect x="681.09" y="2074.28" width="15.80" height="19.78" fill="#fadccc"/>
<rect x="698.50" y="2074.28" width="15.80" height="19.78" fill="#f7b799"/>
<g transform="translate(721.8,2089.9) scale(1.1,1)">
<text x="0.0" y="0.0" font-size="20" text-anchor="start" fill="#000" font-weight="bold" font-style="normal" stroke="#000" stroke-width="0.3">Spermidine</text>
</g>
<rect x="298.20" y="2095.67" width="15.80" height="19.78" fill="#d5e5ee"/>
<rect x="315.60" y="2095.67" width="15.80" height="19.78" fill="#6aacd0"/>
<rect x="333.01" y="2095.67" width="15.80" height="19.78" fill="#6aacd0"/>
<rect x="350.41" y="2095.67" width="15.80" height="19.78" fill="#6aacd0"/>
<rect x="367.82" y="2095.67" width="15.80" height="19.78" fill="#6aacd0"/>
<rect x="385.22" y="2095.67" width="15.80" height="19.78" fill="#fadccc"/>
<rect x="402.62" y="2095.67" width="15.80" height="19.78" fill="#a7d0e4"/>
<rect x="420.03" y="2095.67" width="15.80" height="19.78" fill="#eae4e2"/>
<rect x="437.43" y="2095.67" width="15.80" height="19.78" fill="#fadccc"/>
<rect x="454.84" y="2095.67" width="15.80" height="19.78" fill="#e58268"/>
<rect x="472.24" y="2095.67" width="15.80" height="19.78" fill="#b51e2e"/>
<rect x="489.65" y="2095.67" width="15.80" height="19.78" fill="#f7b799"/>
<rect x="507.05" y="2095.67" width="15.80" height="19.78" fill="#f7b799"/>
<rect x="524.45" y="2095.67" width="15.80" height="19.78" fill="#6aacd0"/>
<rect x="541.86" y="2095.67" width="15.80" height="19.78" fill="#d5e5ee"/>
<rect x="559.26" y="2095.67" width="15.80" height="19.78" fill="#a7d0e4"/>
<rect x="576.67" y="2095.67" width="15.80" height="19.78" fill="#a7d0e4"/>
<rect x="594.07" y="2095.67" width="15.80" height="19.78" fill="#cd4e44"/>
<rect x="611.48" y="2095.67" width="15.80" height="19.78" fill="#e58268"/>
<rect x="628.88" y="2095.67" width="15.80" height="19.78" fill="#eae4e2"/>
<rect x="646.28" y="2095.67" width="15.80" height="19.78" fill="#a7d0e4"/>
<rect x="663.69" y="2095.67" width="15.80" height="19.78" fill="#d5e5ee"/>
<rect x="681.09" y="2095.67" width="15.80" height="19.78" fill="#fadccc"/>
<rect x="698.50" y="2095.67" width="15.80" height="19.78" fill="#fadccc"/>
<g transform="translate(721.8,2111.4) scale(1.1,1)">
<text x="0.0" y="0.0" font-size="20" text-anchor="start" fill="#000" font-weight="bold" font-style="normal" stroke="#000" stroke-width="0.3">Spermine</text>
</g>
<rect x="298.20" y="2117.05" width="15.80" height="19.78" fill="#a7d0e4"/>
<rect x="315.60" y="2117.05" width="15.80" height="19.78" fill="#d5e5ee"/>
<rect x="333.01" y="2117.05" width="15.80" height="19.78" fill="#fadccc"/>
<rect x="350.41" y="2117.05" width="15.80" height="19.78" fill="#eae4e2"/>
<rect x="367.82" y="2117.05" width="15.80" height="19.78" fill="#f7b799"/>
<rect x="385.22" y="2117.05" width="15.80" height="19.78" fill="#fadccc"/>
<rect x="402.62" y="2117.05" width="15.80" height="19.78" fill="#3884bb"/>
<rect x="420.03" y="2117.05" width="15.80" height="19.78" fill="#3884bb"/>
<rect x="437.43" y="2117.05" width="15.80" height="19.78" fill="#a7d0e4"/>
<rect x="454.84" y="2117.05" width="15.80" height="19.78" fill="#a7d0e4"/>
<rect x="472.24" y="2117.05" width="15.80" height="19.78" fill="#a7d0e4"/>
<rect x="489.65" y="2117.05" width="15.80" height="19.78" fill="#a7d0e4"/>
<rect x="507.05" y="2117.05" width="15.80" height="19.78" fill="#a7d0e4"/>
<rect x="524.45" y="2117.05" width="15.80" height="19.78" fill="#f7b799"/>
<rect x="541.86" y="2117.05" width="15.80" height="19.78" fill="#d5e5ee"/>
<rect x="559.26" y="2117.05" width="15.80" height="19.78" fill="#d5e5ee"/>
<rect x="576.67" y="2117.05" width="15.80" height="19.78" fill="#a7d0e4"/>
<rect x="594.07" y="2117.05" width="15.80" height="19.78" fill="#fadccc"/>
<rect x="611.48" y="2117.05" width="15.80" height="19.78" fill="#d5e5ee"/>
<rect x="628.88" y="2117.05" width="15.80" height="19.78" fill="#fadccc"/>
<rect x="646.28" y="2117.05" width="15.80" height="19.78" fill="#cd4e44"/>
<rect x="663.69" y="2117.05" width="15.80" height="19.78" fill="#e58268"/>
<rect x="681.09" y="2117.05" width="15.80" height="19.78" fill="#cd4e44"/>
<rect x="698.50" y="2117.05" width="15.80" height="19.78" fill="#b51e2e"/>
<g transform="translate(721.8,2132.8) scale(1.1,1)">
<text x="0.0" y="0.0" font-size="20" text-anchor="start" fill="#000" font-weight="bold" font-style="normal" stroke="#000" stroke-width="0.3">L-Threonine</text>
</g>
<rect x="298.20" y="2138.43" width="15.80" height="19.78" fill="#eae4e2"/>
<rect x="315.60" y="2138.43" width="15.80" height="19.78" fill="#a7d0e4"/>
<rect x="333.01" y="2138.43" width="15.80" height="19.78" fill="#a7d0e4"/>
<rect x="350.41" y="2138.43" width="15.80" height="19.78" fill="#d5e5ee"/>
<rect x="367.82" y="2138.43" width="15.80" height="19.78" fill="#a7d0e4"/>
<rect x="385.22" y="2138.43" width="15.80" height="19.78" fill="#d5e5ee"/>
<rect x="402.62" y="2138.43" width="15.80" height="19.78" fill="#a7d0e4"/>
<rect x="420.03" y="2138.43" width="15.80" height="19.78" fill="#a7d0e4"/>
<rect x="437.43" y="2138.43" width="15.80" height="19.78" fill="#a7d0e4"/>
<rect x="454.84" y="2138.43" width="15.80" height="19.78" fill="#a7d0e4"/>
<rect x="472.24" y="2138.43" width="15.80" height="19.78" fill="#a7d0e4"/>
<rect x="489.65" y="2138.43" width="15.80" height="19.78" fill="#d5e5ee"/>
<rect x="507.05" y="2138.43" width="15.80" height="19.78" fill="#a7d0e4"/>
<rect x="524.45" y="2138.43" width="15.80" height="19.78" fill="#a7d0e4"/>
<rect x="541.86" y="2138.43" width="15.80" height="19.78" fill="#a7d0e4"/>
<rect x="559.26" y="2138.43" width="15.80" height="19.78" fill="#a7d0e4"/>
<rect x="576.67" y="2138.43" width="15.80" height="19.78" fill="#d5e5ee"/>
<rect x="594.07" y="2138.43" width="15.80" height="19.78" fill="#a7d0e4"/>
<rect x="611.48" y="2138.43" width="15.80" height="19.78" fill="#e58268"/>
<rect x="628.88" y="2138.43" width="15.80" height="19.78" fill="#e58268"/>
<rect x="646.28" y="2138.43" width="15.80" height="19.78" fill="#fadccc"/>
<rect x="663.69" y="2138.43" width="15.80" height="19.78" fill="#cd4e44"/>
<rect x="681.09" y="2138.43" width="15.80" height="19.78" fill="#b51e2e"/>
<rect x="698.50" y="2138.43" width="15.80" height="19.78" fill="#7a0622"/>
<g transform="translate(721.8,2154.2) scale(1.1,1)">
<text x="0.0" y="0.0" font-size="20" text-anchor="start" fill="#000" font-weight="bold" font-style="normal" stroke="#000" stroke-width="0.3">2-Isopropylmalic acid</text>
</g>
<rect x="298.20" y="2159.81" width="15.80" height="19.78" fill="#d5e5ee"/>
<rect x="315.60" y="2159.81" width="15.80" height="19.78" fill="#f7b799"/>
<rect x="333.01" y="2159.81" width="15.80" height="19.78" fill="#fadccc"/>
<rect x="350.41" y="2159.81" width="15.80" height="19.78" fill="#a7d0e4"/>
<rect x="367.82" y="2159.81" width="15.80" height="19.78" fill="#eae4e2"/>
<rect x="385.22" y="2159.81" width="15.80" height="19.78" fill="#fadccc"/>
<rect x="402.62" y="2159.81" width="15.80" height="19.78" fill="#d5e5ee"/>
<rect x="420.03" y="2159.81" width="15.80" height="19.78" fill="#d5e5ee"/>
<rect x="437.43" y="2159.81" width="15.80" height="19.78" fill="#fadccc"/>
<rect x="454.84" y="2159.81" width="15.80" height="19.78" fill="#3884bb"/>
<rect x="472.24" y="2159.81" width="15.80" height="19.78" fill="#3884bb"/>
<rect x="489.65" y="2159.81" width="15.80" height="19.78" fill="#6aacd0"/>
<rect x="507.05" y="2159.81" width="15.80" height="19.78" fill="#a7d0e4"/>
<rect x="524.45" y="2159.81" width="15.80" height="19.78" fill="#f7b799"/>
<rect x="541.86" y="2159.81" width="15.80" height="19.78" fill="#fadccc"/>
<rect x="559.26" y="2159.81" width="15.80" height="19.78" fill="#f7b799"/>
<rect x="576.67" y="2159.81" width="15.80" height="19.78" fill="#fadccc"/>
<rect x="594.07" y="2159.81" width="15.80" height="19.78" fill="#6aacd0"/>
<rect x="611.48" y="2159.81" width="15.80" height="19.78" fill="#eae4e2"/>
<rect x="628.88" y="2159.81" width="15.80" height="19.78" fill="#e58268"/>
<rect x="646.28" y="2159.81" width="15.80" height="19.78" fill="#b51e2e"/>
<rect x="663.69" y="2159.81" width="15.80" height="19.78" fill="#eae4e2"/>
<rect x="681.09" y="2159.81" width="15.80" height="19.78" fill="#fadccc"/>
<rect x="698.50" y="2159.81" width="15.80" height="19.78" fill="#d5e5ee"/>
<g transform="translate(721.8,2175.7) scale(1.1,1)">
<text x="0.0" y="0.0" font-size="20" text-anchor="start" fill="#000" font-weight="bold" font-style="normal" stroke="#000" stroke-width="0.3">Guanosine diphosphate</text>
</g>
<rect x="298.20" y="2181.19" width="15.80" height="19.78" fill="#eae4e2"/>
<rect x="315.60" y="2181.19" width="15.80" height="19.78" fill="#a7d0e4"/>
<rect x="333.01" y="2181.19" width="15.80" height="19.78" fill="#fadccc"/>
<rect x="350.41" y="2181.19" width="15.80" height="19.78" fill="#a7d0e4"/>
<rect x="367.82" y="2181.19" width="15.80" height="19.78" fill="#a7d0e4"/>
<rect x="385.22" y="2181.19" width="15.80" height="19.78" fill="#eae4e2"/>
<rect x="402.62" y="2181.19" width="15.80" height="19.78" fill="#a7d0e4"/>
<rect x="420.03" y="2181.19" width="15.80" height="19.78" fill="#6aacd0"/>
<rect x="437.43" y="2181.19" width="15.80" height="19.78" fill="#a7d0e4"/>
<rect x="454.84" y="2181.19" width="15.80" height="19.78" fill="#3884bb"/>
<rect x="472.24" y="2181.19" width="15.80" height="19.78" fill="#6aacd0"/>
<rect x="489.65" y="2181.19" width="15.80" height="19.78" fill="#a7d0e4"/>
<rect x="507.05" y="2181.19" width="15.80" height="19.78" fill="#d5e5ee"/>
<rect x="524.45" y="2181.19" width="15.80" height="19.78" fill="#7a0622"/>
<rect x="541.86" y="2181.19" width="15.80" height="19.78" fill="#fadccc"/>
<rect x="559.26" y="2181.19" width="15.80" height="19.78" fill="#fadccc"/>
<rect x="576.67" y="2181.19" width="15.80" height="19.78" fill="#fadccc"/>
<rect x="594.07" y="2181.19" width="15.80" height="19.78" fill="#f7b799"/>
<rect x="611.48" y="2181.19" width="15.80" height="19.78" fill="#eae4e2"/>
<rect x="628.88" y="2181.19" width="15.80" height="19.78" fill="#eae4e2"/>
<rect x="646.28" y="2181.19" width="15.80" height="19.78" fill="#eae4e2"/>
<rect x="663.69" y="2181.19" width="15.80" height="19.78" fill="#eae4e2"/>
<rect x="681.09" y="2181.19" width="15.80" height="19.78" fill="#e58268"/>
<rect x="698.50" y="2181.19" width="15.80" height="19.78" fill="#cd4e44"/>
<g transform="translate(721.8,2197.1) scale(1.1,1)">
<text x="0.0" y="0.0" font-size="20" text-anchor="start" fill="#000" font-weight="bold" font-style="normal" stroke="#000" stroke-width="0.3">ADP</text>
</g>
<rect x="298.20" y="2202.57" width="15.80" height="19.78" fill="#d5e5ee"/>
<rect x="315.60" y="2202.57" width="15.80" height="19.78" fill="#fadccc"/>
<rect x="333.01" y="2202.57" width="15.80" height="19.78" fill="#fadccc"/>
<rect x="350.41" y="2202.57" width="15.80" height="19.78" fill="#fadccc"/>
<rect x="367.82" y="2202.57" width="15.80" height="19.78" fill="#eae4e2"/>
<rect x="385.22" y="2202.57" width="15.80" height="19.78" fill="#eae4e2"/>
<rect x="402.62" y="2202.57" width="15.80" height="19.78" fill="#a7d0e4"/>
<rect x="420.03" y="2202.57" width="15.80" height="19.78" fill="#d5e5ee"/>
<rect x="437.43" y="2202.57" width="15.80" height="19.78" fill="#fadccc"/>
<rect x="454.84" y="2202.57" width="15.80" height="19.78" fill="#6aacd0"/>
<rect x="472.24" y="2202.57" width="15.80" height="19.78" fill="#1c5da0"/>
<rect x="489.65" y="2202.57" width="15.80" height="19.78" fill="#a7d0e4"/>
<rect x="507.05" y="2202.57" width="15.80" height="19.78" fill="#d5e5ee"/>
<rect x="524.45" y="2202.57" width="15.80" height="19.78" fill="#cd4e44"/>
<rect x="541.86" y="2202.57" width="15.80" height="19.78" fill="#f7b799"/>
<rect x="559.26" y="2202.57" width="15.80" height="19.78" fill="#f7b799"/>
<rect x="576.67" y="2202.57" width="15.80" height="19.78" fill="#eae4e2"/>
<rect x="594.07" y="2202.57" width="15.80" height="19.78" fill="#a7d0e4"/>
<rect x="611.48" y="2202.57" width="15.80" height="19.78" fill="#a7d0e4"/>
<rect x="628.88" y="2202.57" width="15.80" height="19.78" fill="#d5e5ee"/>
<rect x="646.28" y="2202.57" width="15.80" height="19.78" fill="#f7b799"/>
<rect x="663.69" y="2202.57" width="15.80" height="19.78" fill="#f7b799"/>
<rect x="681.09" y="2202.57" width="15.80" height="19.78" fill="#e58268"/>
<rect x="698.50" y="2202.57" width="15.80" height="19.78" fill="#b51e2e"/>
<g transform="translate(721.8,2218.6) scale(1.1,1)">
<text x="0.0" y="0.0" font-size="20" text-anchor="start" fill="#000" font-weight="bold" font-style="normal" stroke="#000" stroke-width="0.3">Thiamine</text>
</g>
<rect x="298.20" y="2223.96" width="15.80" height="19.78" fill="#6aacd0"/>
<rect x="315.60" y="2223.96" width="15.80" height="19.78" fill="#a7d0e4"/>
<rect x="333.01" y="2223.96" width="15.80" height="19.78" fill="#d5e5ee"/>
<rect x="350.41" y="2223.96" width="15.80" height="19.78" fill="#d5e5ee"/>
<rect x="367.82" y="2223.96" width="15.80" height="19.78" fill="#6aacd0"/>
<rect x="385.22" y="2223.96" width="15.80" height="19.78" fill="#a7d0e4"/>
<rect x="402.62" y="2223.96" width="15.80" height="19.78" fill="#a7d0e4"/>
<rect x="420.03" y="2223.96" width="15.80" height="19.78" fill="#cd4e44"/>
<rect x="437.43" y="2223.96" width="15.80" height="19.78" fill="#fadccc"/>
<rect x="454.84" y="2223.96" width="15.80" height="19.78" fill="#f7b799"/>
<rect x="472.24" y="2223.96" width="15.80" height="19.78" fill="#fadccc"/>
<rect x="489.65" y="2223.96" width="15.80" height="19.78" fill="#a7d0e4"/>
<rect x="507.05" y="2223.96" width="15.80" height="19.78" fill="#6aacd0"/>
<rect x="524.45" y="2223.96" width="15.80" height="19.78" fill="#fadccc"/>
<rect x="541.86" y="2223.96" width="15.80" height="19.78" fill="#fadccc"/>
<rect x="559.26" y="2223.96" width="15.80" height="19.78" fill="#b51e2e"/>
<rect x="576.67" y="2223.96" width="15.80" height="19.78" fill="#a7d0e4"/>
<rect x="594.07" y="2223.96" width="15.80" height="19.78" fill="#f7b799"/>
<rect x="611.48" y="2223.96" width="15.80" height="19.78" fill="#a7d0e4"/>
<rect x="628.88" y="2223.96" width="15.80" height="19.78" fill="#fadccc"/>
<rect x="646.28" y="2223.96" width="15.80" height="19.78" fill="#eae4e2"/>
<rect x="663.69" y="2223.96" width="15.80" height="19.78" fill="#e58268"/>
<rect x="681.09" y="2223.96" width="15.80" height="19.78" fill="#f7b799"/>
<rect x="698.50" y="2223.96" width="15.80" height="19.78" fill="#eae4e2"/>
<g transform="translate(721.8,2240.0) scale(1.1,1)">
<text x="0.0" y="0.0" font-size="20" text-anchor="start" fill="#000" font-weight="bold" font-style="normal" stroke="#000" stroke-width="0.3">Terephthalic acid</text>
</g>
<rect x="298.20" y="2245.34" width="15.80" height="19.78" fill="#6aacd0"/>
<rect x="315.60" y="2245.34" width="15.80" height="19.78" fill="#a7d0e4"/>
<rect x="333.01" y="2245.34" width="15.80" height="19.78" fill="#6aacd0"/>
<rect x="350.41" y="2245.34" width="15.80" height="19.78" fill="#3884bb"/>
<rect x="367.82" y="2245.34" width="15.80" height="19.78" fill="#3884bb"/>
<rect x="385.22" y="2245.34" width="15.80" height="19.78" fill="#3884bb"/>
<rect x="402.62" y="2245.34" width="15.80" height="19.78" fill="#d5e5ee"/>
<rect x="420.03" y="2245.34" width="15.80" height="19.78" fill="#a7d0e4"/>
<rect x="437.43" y="2245.34" width="15.80" height="19.78" fill="#fadccc"/>
<rect x="454.84" y="2245.34" width="15.80" height="19.78" fill="#a7d0e4"/>
<rect x="472.24" y="2245.34" width="15.80" height="19.78" fill="#d5e5ee"/>
<rect x="489.65" y="2245.34" width="15.80" height="19.78" fill="#a7d0e4"/>
<rect x="507.05" y="2245.34" width="15.80" height="19.78" fill="#f7b799"/>
<rect x="524.45" y="2245.34" width="15.80" height="19.78" fill="#f7b799"/>
<rect x="541.86" y="2245.34" width="15.80" height="19.78" fill="#cd4e44"/>
<rect x="559.26" y="2245.34" width="15.80" height="19.78" fill="#cd4e44"/>
<rect x="576.67" y="2245.34" width="15.80" height="19.78" fill="#fadccc"/>
<rect x="594.07" y="2245.34" width="15.80" height="19.78" fill="#fadccc"/>
<rect x="611.48" y="2245.34" width="15.80" height="19.78" fill="#f7b799"/>
<rect x="628.88" y="2245.34" width="15.80" height="19.78" fill="#f7b799"/>
<rect x="646.28" y="2245.34" width="15.80" height="19.78" fill="#f7b799"/>
<rect x="663.69" y="2245.34" width="15.80" height="19.78" fill="#fadccc"/>
<rect x="681.09" y="2245.34" width="15.80" height="19.78" fill="#fadccc"/>
<rect x="698.50" y="2245.34" width="15.80" height="19.78" fill="#fadccc"/>
<g transform="translate(721.8,2261.5) scale(1.1,1)">
<text x="0.0" y="0.0" font-size="20" text-anchor="start" fill="#000" font-weight="bold" font-style="normal" stroke="#000" stroke-width="0.3">Trehalose 6-phosphate</text>
</g>
<rect x="298.20" y="2266.72" width="15.80" height="19.78" fill="#d5e5ee"/>
<rect x="315.60" y="2266.72" width="15.80" height="19.78" fill="#a7d0e4"/>
<rect x="333.01" y="2266.72" width="15.80" height="19.78" fill="#a7d0e4"/>
<rect x="350.41" y="2266.72" width="15.80" height="19.78" fill="#a7d0e4"/>
<rect x="367.82" y="2266.72" width="15.80" height="19.78" fill="#a7d0e4"/>
<rect x="385.22" y="2266.72" width="15.80" height="19.78" fill="#d5e5ee"/>
<rect x="402.62" y="2266.72" width="15.80" height="19.78" fill="#a7d0e4"/>
<rect x="420.03" y="2266.72" width="15.80" height="19.78" fill="#a7d0e4"/>
<rect x="437.43" y="2266.72" width="15.80" height="19.78" fill="#a7d0e4"/>
<rect x="454.84" y="2266.72" width="15.80" height="19.78" fill="#3884bb"/>
<rect x="472.24" y="2266.72" width="15.80" height="19.78" fill="#3884bb"/>
<rect x="489.65" y="2266.72" width="15.80" height="19.78" fill="#6aacd0"/>
<rect x="507.05" y="2266.72" width="15.80" height="19.78" fill="#e58268"/>
<rect x="524.45" y="2266.72" width="15.80" height="19.78" fill="#d5e5ee"/>
<rect x="541.86" y="2266.72" width="15.80" height="19.78" fill="#fadccc"/>
<rect x="559.26" y="2266.72" width="15.80" height="19.78" fill="#fadccc"/>
<rect x="576.67" y="2266.72" width="15.80" height="19.78" fill="#cd4e44"/>
<rect x="594.07" y="2266.72" width="15.80" height="19.78" fill="#fadccc"/>
<rect x="611.48" y="2266.72" width="15.80" height="19.78" fill="#f7b799"/>
<rect x="628.88" y="2266.72" width="15.80" height="19.78" fill="#f7b799"/>
<rect x="646.28" y="2266.72" width="15.80" height="19.78" fill="#f7b799"/>
<rect x="663.69" y="2266.72" width="15.80" height="19.78" fill="#fadccc"/>
<rect x="681.09" y="2266.72" width="15.80" height="19.78" fill="#b51e2e"/>
<rect x="698.50" y="2266.72" width="15.80" height="19.78" fill="#fadccc"/>
<g transform="translate(719.8,2282.9) scale(1.1,1)">
<text x="0.0" y="0.0" font-size="20" text-anchor="start" fill="#000" font-weight="bold" font-style="normal" stroke="#000" stroke-width="0.3">NADH</text>
</g>
<rect x="400.03" y="1237.5" width="3.6" height="1050.6999999999998" fill="#05050f"/>
<rect x="504.45" y="1237.5" width="3.6" height="1050.6999999999998" fill="#05050f"/>
<rect x="608.88" y="1237.5" width="3.6" height="1050.6999999999998" fill="#05050f"/>
<rect x="297.3" y="1964.78" width="417.7" height="3.6" fill="#05050f"/>
<rect x="297.3" y="2114.45" width="417.7" height="3.6" fill="#05050f"/>
<rect x="186" y="1244.4" width="43" height="729" fill="#f8ecc9"/><rect x="186" y="1973.4" width="43" height="146" fill="#e2f1f9"/><rect x="186" y="2119.4" width="43" height="165" fill="#f0f7f0"/>
<g transform="translate(218.5,1600) rotate(-90)">
<text x="0.0" y="0.0" font-size="27" text-anchor="middle" fill="#000" font-weight="bold" font-style="normal"  stroke="#000" stroke-width="0.30">C1</text>
</g>
<g transform="translate(218.5,2042) rotate(-90)">
<text x="0.0" y="0.0" font-size="27" text-anchor="middle" fill="#000" font-weight="bold" font-style="normal"  stroke="#000" stroke-width="0.30">C2</text>
</g>
<g transform="translate(218.5,2204) rotate(-90)">
<text x="0.0" y="0.0" font-size="27" text-anchor="middle" fill="#000" font-weight="bold" font-style="normal"  stroke="#000" stroke-width="0.30">C3</text>
</g>
<path d="M295.0,1250.2L295.0,1271.6 M295.0,1250.2L297.3,1250.2 M295.0,1271.6L297.3,1271.6 M296.0,1293.0L296.0,1314.3 M296.0,1293.0L297.3,1293.0 M296.0,1314.3L297.3,1314.3 M294.0,1303.6L294.0,1335.7 M294.0,1303.6L296.0,1303.6 M294.0,1335.7L297.3,1335.7 M293.0,1260.9L293.0,1319.7 M293.0,1260.9L295.0,1260.9 M293.0,1319.7L294.0,1319.7 M296.0,1357.1L296.0,1378.5 M296.0,1357.1L297.3,1357.1 M296.0,1378.5L297.3,1378.5 M295.0,1367.8L295.0,1399.9 M295.0,1367.8L296.0,1367.8 M295.0,1399.9L297.3,1399.9 M294.0,1421.2L294.0,1442.6 M294.0,1421.2L297.3,1421.2 M294.0,1442.6L297.3,1442.6 M291.0,1383.8L291.0,1431.9 M291.0,1383.8L295.0,1383.8 M291.0,1431.9L294.0,1431.9 M294.0,1464.0L294.0,1485.4 M294.0,1464.0L297.3,1464.0 M294.0,1485.4L297.3,1485.4 M295.0,1528.2L295.0,1549.5 M295.0,1528.2L297.3,1528.2 M295.0,1549.5L297.3,1549.5 M292.0,1506.8L292.0,1538.8 M292.0,1506.8L297.3,1506.8 M292.0,1538.8L295.0,1538.8 M290.0,1474.7L290.0,1522.8 M290.0,1474.7L294.0,1474.7 M290.0,1522.8L292.0,1522.8 M288.0,1407.9L288.0,1498.8 M288.0,1407.9L291.0,1407.9 M288.0,1498.8L290.0,1498.8 M285.0,1290.3L285.0,1453.3 M285.0,1290.3L293.0,1290.3 M285.0,1453.3L288.0,1453.3 M295.0,1570.9L295.0,1592.3 M295.0,1570.9L297.3,1570.9 M295.0,1592.3L297.3,1592.3 M294.0,1613.7L294.0,1635.1 M294.0,1613.7L297.3,1613.7 M294.0,1635.1L297.3,1635.1 M291.0,1581.6L291.0,1624.4 M291.0,1581.6L295.0,1581.6 M291.0,1624.4L294.0,1624.4 M294.0,1656.4L294.0,1677.8 M294.0,1656.4L297.3,1656.4 M294.0,1677.8L297.3,1677.8 M295.0,1720.6L295.0,1742.0 M295.0,1720.6L297.3,1720.6 M295.0,1742.0L297.3,1742.0 M292.0,1699.2L292.0,1731.3 M292.0,1699.2L297.3,1699.2 M292.0,1731.3L295.0,1731.3 M289.0,1667.1L289.0,1715.2 M289.0,1667.1L294.0,1667.1 M289.0,1715.2L292.0,1715.2 M287.0,1603.0L287.0,1691.2 M287.0,1603.0L291.0,1603.0 M287.0,1691.2L289.0,1691.2 M296.0,1784.7L296.0,1806.1 M296.0,1784.7L297.3,1784.7 M296.0,1806.1L297.3,1806.1 M294.0,1763.3L294.0,1795.4 M294.0,1763.3L297.3,1763.3 M294.0,1795.4L296.0,1795.4 M293.0,1827.5L293.0,1848.9 M293.0,1827.5L297.3,1827.5 M293.0,1848.9L297.3,1848.9 M290.0,1779.4L290.0,1838.2 M290.0,1779.4L294.0,1779.4 M290.0,1838.2L293.0,1838.2 M295.0,1891.6L295.0,1913.0 M295.0,1891.6L297.3,1891.6 M295.0,1913.0L297.3,1913.0 M293.0,1870.3L293.0,1902.3 M293.0,1870.3L297.3,1870.3 M293.0,1902.3L295.0,1902.3 M294.0,1934.4L294.0,1955.8 M294.0,1934.4L297.3,1934.4 M294.0,1955.8L297.3,1955.8 M288.0,1886.3L288.0,1945.1 M288.0,1886.3L293.0,1886.3 M288.0,1945.1L294.0,1945.1 M285.0,1808.8L285.0,1915.7 M285.0,1808.8L290.0,1808.8 M285.0,1915.7L288.0,1915.7 M281.0,1647.1L281.0,1862.2 M281.0,1647.1L287.0,1647.1 M281.0,1862.2L285.0,1862.2 M277.0,1365.0L277.0,1747.0 M277.0,1365.0L285.0,1365.0 M277.0,1747.0L281.0,1747.0 M296.0,1977.2L296.0,1998.5 M296.0,1977.2L297.3,1977.2 M296.0,1998.5L297.3,1998.5 M295.0,2019.9L295.0,2041.3 M295.0,2019.9L297.3,2019.9 M295.0,2041.3L297.3,2041.3 M294.0,1987.9L294.0,2030.6 M294.0,1987.9L296.0,1987.9 M294.0,2030.6L295.0,2030.6 M295.0,2084.1L295.0,2105.5 M295.0,2084.1L297.3,2084.1 M295.0,2105.5L297.3,2105.5 M293.0,2062.7L293.0,2094.8 M293.0,2062.7L297.3,2062.7 M293.0,2094.8L295.0,2094.8 M291.0,2009.2L291.0,2078.7 M291.0,2009.2L294.0,2009.2 M291.0,2078.7L293.0,2078.7 M294.0,2126.8L294.0,2148.2 M294.0,2126.8L297.3,2126.8 M294.0,2148.2L297.3,2148.2 M295.0,2191.0L295.0,2212.4 M295.0,2191.0L297.3,2191.0 M295.0,2212.4L297.3,2212.4 M292.0,2169.6L292.0,2201.7 M292.0,2169.6L297.3,2169.6 M292.0,2201.7L295.0,2201.7 M290.0,2137.5L290.0,2185.6 M290.0,2137.5L294.0,2137.5 M290.0,2185.6L292.0,2185.6 M293.0,2255.1L293.0,2276.5 M293.0,2255.1L297.3,2255.1 M293.0,2276.5L297.3,2276.5 M289.0,2233.7L289.0,2265.8 M289.0,2233.7L297.3,2233.7 M289.0,2265.8L293.0,2265.8 M286.0,2161.6L286.0,2249.8 M286.0,2161.6L290.0,2161.6 M286.0,2249.8L289.0,2249.8 M258.6,2036.7L258.6,2205.5 M258.6,2036.7L291.0,2036.7 M258.6,2205.5L286.0,2205.5 M230.4,1556.7L230.4,2121.4 M230.4,1556.7L277.0,1556.7 M230.4,2121.4L258.6,2121.4" stroke="#000" stroke-width="1.5" fill="none" stroke-linecap="square"/>
<rect x="195.4" y="2310" width="366.4" height="13" fill="url(#hleg)"/>
<text x="197.0" y="2343.2" font-size="20.5" text-anchor="middle" fill="#231815" font-weight="bold" font-style="normal"  stroke="#231815" stroke-width="0.23">3</text>
<text x="257.7" y="2343.2" font-size="20.5" text-anchor="middle" fill="#231815" font-weight="bold" font-style="normal"  stroke="#231815" stroke-width="0.23">2</text>
<text x="318.4" y="2343.2" font-size="20.5" text-anchor="middle" fill="#231815" font-weight="bold" font-style="normal"  stroke="#231815" stroke-width="0.23">1</text>
<text x="379.1" y="2343.2" font-size="20.5" text-anchor="middle" fill="#231815" font-weight="bold" font-style="normal"  stroke="#231815" stroke-width="0.23">0</text>
<text x="436.8" y="2343.2" font-size="20.5" text-anchor="middle" fill="#231815" font-weight="bold" font-style="normal"  stroke="#231815" stroke-width="0.23">-1</text>
<text x="497.5" y="2343.2" font-size="20.5" text-anchor="middle" fill="#231815" font-weight="bold" font-style="normal"  stroke="#231815" stroke-width="0.23">-2</text>
<text x="558.2" y="2343.2" font-size="20.5" text-anchor="middle" fill="#231815" font-weight="bold" font-style="normal"  stroke="#231815" stroke-width="0.23">-3</text>
<text x="1437.5" y="1200.6" font-size="27.65" text-anchor="middle" fill="#000" font-weight="bold" font-style="normal"  stroke="#000" stroke-width="0.30">Enrichment Overview (FDR &lt; 0.05)</text>
<rect x="1251.8" y="1238.9" width="123.9" height="28.4" fill="#fdd17f"/>
<rect x="1375.7" y="1241.8" width="112.5" height="20.2" fill="rgb(227, 26, 34)" stroke="#111" stroke-width="1.5"/>
<text x="1369.2" y="1260.6" font-size="22" text-anchor="end" fill="#000" font-weight="bold" font-style="normal"  stroke="#000" stroke-width="0.24">TCA cycle</text>
<rect x="1375.7" y="1270.7" width="160.0" height="20.2" fill="rgb(227, 28, 34)" stroke="#111" stroke-width="1.5"/>
<text x="1369.2" y="1289.5" font-size="22" text-anchor="end" fill="#000" font-weight="bold" font-style="normal"  stroke="#000" stroke-width="0.24">Transcription</text>
<rect x="1375.7" y="1299.6" width="191.4" height="20.2" fill="rgb(228, 32, 35)" stroke="#111" stroke-width="1.5"/>
<text x="1369.2" y="1318.4" font-size="22" text-anchor="end" fill="#000" font-weight="bold" font-style="normal"  stroke="#000" stroke-width="0.24">PGI2-R signaling</text>
<rect x="1179.5" y="1325.6" width="196.2" height="28.4" fill="#fdd17f"/>
<rect x="1375.7" y="1328.5" width="74.4" height="20.2" fill="rgb(228, 35, 36)" stroke="#111" stroke-width="1.5"/>
<text x="1371.2" y="1347.3" font-size="22" text-anchor="end" fill="#000" font-weight="bold" font-style="normal"  stroke="#000" stroke-width="0.24">Gluconeogenesis</text>
<rect x="1375.7" y="1357.4" width="217.0" height="20.2" fill="rgb(229, 40, 37)" stroke="#111" stroke-width="1.5"/>
<text x="1369.2" y="1376.2" font-size="22" text-anchor="end" fill="#000" font-weight="bold" font-style="normal"  stroke="#000" stroke-width="0.24">FSH-R signaling</text>
<rect x="1375.7" y="1386.3" width="116.2" height="20.2" fill="rgb(229, 44, 38)" stroke="#111" stroke-width="1.5"/>
<text x="1369.2" y="1405.1" font-size="22" text-anchor="end" fill="#000" font-weight="bold" font-style="normal"  stroke="#000" stroke-width="0.24">PGD2-R signaling</text>
<rect x="1375.7" y="1415.2" width="172.8" height="20.2" fill="rgb(230, 49, 39)" stroke="#111" stroke-width="1.5"/>
<text x="1369.2" y="1434.0" font-size="22" text-anchor="end" fill="#000" font-weight="bold" font-style="normal"  stroke="#000" stroke-width="0.24">Histamine-R signaling</text>
<rect x="1375.7" y="1444.1" width="172.8" height="20.2" fill="rgb(230, 54, 40)" stroke="#111" stroke-width="1.5"/>
<text x="1369.2" y="1462.9" font-size="22" text-anchor="end" fill="#000" font-weight="bold" font-style="normal"  stroke="#000" stroke-width="0.24">Water homeostasis</text>
<rect x="1375.7" y="1473.0" width="172.8" height="20.2" fill="rgb(231, 60, 41)" stroke="#111" stroke-width="1.5"/>
<text x="1369.2" y="1491.8" font-size="22" text-anchor="end" fill="#000" font-weight="bold" font-style="normal"  stroke="#000" stroke-width="0.24">Corticotropin activation</text>
<rect x="1375.7" y="1501.9" width="172.8" height="20.2" fill="rgb(232, 65, 42)" stroke="#111" stroke-width="1.5"/>
<text x="1369.2" y="1520.7" font-size="22" text-anchor="end" fill="#000" font-weight="bold" font-style="normal"  stroke="#000" stroke-width="0.24">Serotonin-R signaling</text>
<rect x="1375.7" y="1530.8" width="172.8" height="20.2" fill="rgb(233, 71, 43)" stroke="#111" stroke-width="1.5"/>
<text x="1369.2" y="1549.6" font-size="22" text-anchor="end" fill="#000" font-weight="bold" font-style="normal"  stroke="#000" stroke-width="0.24">Ketone body metabolism</text>
<rect x="1375.7" y="1559.7" width="76.3" height="20.2" fill="rgb(233, 77, 44)" stroke="#111" stroke-width="1.5"/>
<text x="1370.4" y="1578.5" font-size="22" text-anchor="end" fill="#000" font-weight="bold" font-style="normal"  stroke="#000" stroke-width="0.24">Insulin signaling</text>
<rect x="1375.7" y="1588.6" width="76.3" height="20.2" fill="rgb(234, 83, 45)" stroke="#111" stroke-width="1.5"/>
<text x="1371.2" y="1607.4" font-size="22" text-anchor="end" fill="#000" font-weight="bold" font-style="normal"  stroke="#000" stroke-width="0.24">Protein biosynthesis</text>
<rect x="1253.8" y="1614.6" width="121.9" height="28.4" fill="#fdd17f"/>
<rect x="1375.7" y="1617.5" width="67.4" height="20.2" fill="rgb(235, 90, 47)" stroke="#111" stroke-width="1.5"/>
<text x="1370.0" y="1636.3" font-size="22" text-anchor="end" fill="#000" font-weight="bold" font-style="normal"  stroke="#000" stroke-width="0.24">Glycolysis</text>
<rect x="1375.7" y="1646.4" width="123.0" height="20.2" fill="rgb(236, 96, 48)" stroke="#111" stroke-width="1.5"/>
<text x="1369.2" y="1665.2" font-size="22" text-anchor="end" fill="#000" font-weight="bold" font-style="normal"  stroke="#000" stroke-width="0.24">Adenosine-R signalig</text>
<rect x="1375.7" y="1675.3" width="83.2" height="20.2" fill="rgb(236, 102, 49)" stroke="#111" stroke-width="1.5"/>
<text x="1369.2" y="1694.1" font-size="22" text-anchor="end" fill="#000" font-weight="bold" font-style="normal"  stroke="#000" stroke-width="0.24">ß-Oxidation</text>
<rect x="1168" y="1701.3" width="207.7" height="28.4" fill="#fdd17f"/>
<rect x="1375.7" y="1704.2" width="77.6" height="20.2" fill="rgb(237, 109, 51)" stroke="#111" stroke-width="1.5"/>
<text x="1369.2" y="1723.0" font-size="22" text-anchor="end" fill="#000" font-weight="bold" font-style="normal"  stroke="#000" stroke-width="0.24">Mitochondrial ETC</text>
<rect x="1375.7" y="1733.1" width="44.3" height="20.2" fill="rgb(238, 116, 52)" stroke="#111" stroke-width="1.5"/>
<text x="1372.4" y="1751.9" font-size="22" text-anchor="end" fill="#000" font-weight="bold" font-style="normal"  stroke="#000" stroke-width="0.24">Purine metabolism</text>
<path d="M1375.7,1214.8 L1375.7,1773.5 L1633,1773.5" fill="none" stroke="#111" stroke-width="1.6"/>
<path d="M1375.7,1773.5 L1375.7,1779.8" stroke="#111" stroke-width="1.6"/>
<text x="1373.7" y="1800.0" font-size="21.5" text-anchor="middle" fill="#000" font-weight="bold" font-style="normal"  stroke="#000" stroke-width="0.24">0</text>
<path d="M1407.7,1773.5 L1407.7,1779.8" stroke="#111" stroke-width="1.6"/>
<text x="1405.7" y="1800.0" font-size="21.5" text-anchor="middle" fill="#000" font-weight="bold" font-style="normal"  stroke="#000" stroke-width="0.24">2</text>
<path d="M1439.7,1773.5 L1439.7,1779.8" stroke="#111" stroke-width="1.6"/>
<text x="1437.7" y="1800.0" font-size="21.5" text-anchor="middle" fill="#000" font-weight="bold" font-style="normal"  stroke="#000" stroke-width="0.24">4</text>
<path d="M1471.7,1773.5 L1471.7,1779.8" stroke="#111" stroke-width="1.6"/>
<text x="1469.7" y="1800.0" font-size="21.5" text-anchor="middle" fill="#000" font-weight="bold" font-style="normal"  stroke="#000" stroke-width="0.24">6</text>
<path d="M1503.7,1773.5 L1503.7,1779.8" stroke="#111" stroke-width="1.6"/>
<text x="1501.7" y="1800.0" font-size="21.5" text-anchor="middle" fill="#000" font-weight="bold" font-style="normal"  stroke="#000" stroke-width="0.24">8</text>
<path d="M1535.7,1773.5 L1535.7,1779.8" stroke="#111" stroke-width="1.6"/>
<text x="1533.7" y="1800.0" font-size="21.5" text-anchor="middle" fill="#000" font-weight="bold" font-style="normal"  stroke="#000" stroke-width="0.24">10</text>
<path d="M1567.7,1773.5 L1567.7,1779.8" stroke="#111" stroke-width="1.6"/>
<text x="1565.7" y="1800.0" font-size="21.5" text-anchor="middle" fill="#000" font-weight="bold" font-style="normal"  stroke="#000" stroke-width="0.24">12</text>
<path d="M1599.7,1773.5 L1599.7,1779.8" stroke="#111" stroke-width="1.6"/>
<text x="1597.7" y="1800.0" font-size="21.5" text-anchor="middle" fill="#000" font-weight="bold" font-style="normal"  stroke="#000" stroke-width="0.24">14</text>
<path d="M1631.7,1773.5 L1631.7,1779.8" stroke="#111" stroke-width="1.6"/>
<text x="1629.7" y="1800.0" font-size="21.5" text-anchor="middle" fill="#000" font-weight="bold" font-style="normal"  stroke="#000" stroke-width="0.24">16</text>
<text x="1509.3" y="1837.3" font-size="24.66" text-anchor="middle" fill="#000" font-weight="bold" font-style="normal"  stroke="#000" stroke-width="0.27">Fold Enrichment</text>
<rect x="1607.5" y="1484.8" width="11.7" height="253.4" fill="url(#pleg)" stroke="#080808" stroke-width="1.7"/>
<text x="1630.0" y="1493.5" font-size="21.5" text-anchor="start" fill="#000" font-weight="bold" font-style="normal"  stroke="#000" stroke-width="0.24">7E-07</text>
<text x="1629.5" y="1737.3" font-size="21.5" text-anchor="start" fill="#000" font-weight="bold" font-style="normal"  stroke="#000" stroke-width="0.24">8E-01</text>
<text x="1629.5" y="1612.0" font-size="21.5" text-anchor="start" fill="#000" font-weight="bold" font-style="normal"  stroke="#000" stroke-width="0.24"><tspan font-style="italic">p</tspan> value</text>
</svg>
</body></html>
